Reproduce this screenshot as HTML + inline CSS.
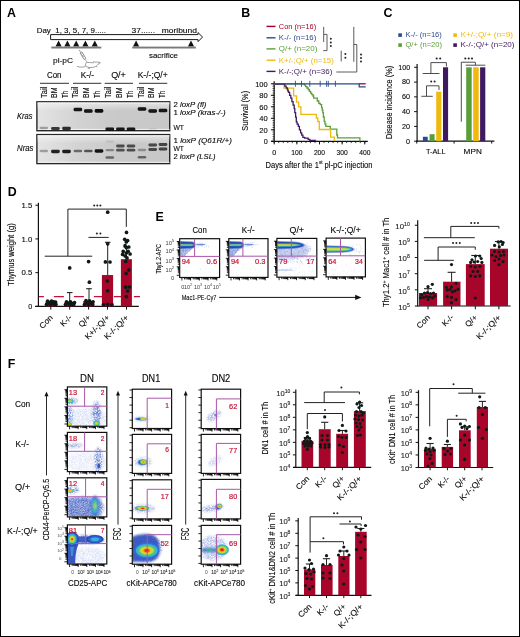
<!DOCTYPE html>
<html><head><meta charset="utf-8"><style>
html,body{margin:0;padding:0;background:#fff;}
body{width:520px;height:637px;overflow:hidden;}
svg{display:block;font-family:"Liberation Sans", sans-serif;will-change:transform;}
text:not([stroke]){stroke:#231f20;stroke-width:0.12px;}
</style></head><body>
<svg width="520" height="637" viewBox="0 0 520 637">
<defs>
<filter id="bl1" x="-50%" y="-50%" width="200%" height="200%"><feGaussianBlur stdDeviation="0.6"/></filter>
<filter id="bl2" x="-50%" y="-50%" width="200%" height="200%"><feGaussianBlur stdDeviation="1.2"/></filter>
<filter id="bl3" x="-50%" y="-50%" width="200%" height="200%"><feGaussianBlur stdDeviation="2"/></filter>
<filter id="bl4" x="-50%" y="-50%" width="200%" height="200%"><feGaussianBlur stdDeviation="3"/></filter>
<filter id="spk" filterUnits="userSpaceOnUse" x="0" y="0" width="520" height="637"><feGaussianBlur in="SourceGraphic" stdDeviation="1.2" result="b"/><feTurbulence type="fractalNoise" baseFrequency="2.6" numOctaves="1" seed="5" result="n"/><feColorMatrix in="n" type="matrix" values="0 0 0 0 0 0 0 0 0 0 0 0 0 0 0 2.2 0 0 0 -0.6" result="m"/><feComposite in="b" in2="m" operator="in"/></filter>
<filter id="spk2" filterUnits="userSpaceOnUse" x="0" y="0" width="520" height="637"><feGaussianBlur in="SourceGraphic" stdDeviation="0.8" result="b"/><feTurbulence type="fractalNoise" baseFrequency="1.3" numOctaves="1" seed="9" result="n"/><feColorMatrix in="n" type="matrix" values="0 0 0 0 0 0 0 0 0 0 0 0 0 0 0 3 0 0 0 -0.9" result="m"/><feComposite in="b" in2="m" operator="in"/></filter>
<linearGradient id="gel" x1="0" y1="0" x2="1" y2="0"><stop offset="0" stop-color="#e4e4e4"/><stop offset="0.3" stop-color="#d3d3d3"/><stop offset="0.6" stop-color="#c9c9c9"/><stop offset="1" stop-color="#c8c8c8"/></linearGradient><linearGradient id="gelv" x1="0" y1="0" x2="0" y2="1"><stop offset="0" stop-color="#fff" stop-opacity="0.5"/><stop offset="0.3" stop-color="#fff" stop-opacity="0"/></linearGradient>
</defs>
<rect x="0" y="0" width="520" height="637" fill="#fff"/>
<text x="6.9" y="17" font-size="12.4" fill="#000" font-weight="bold" stroke="none">A</text>
<text x="241.2" y="17" font-size="12.4" fill="#000" font-weight="bold" stroke="none">B</text>
<text x="383.6" y="17" font-size="12.4" fill="#000" font-weight="bold" stroke="none">C</text>
<text x="7.8" y="195.7" font-size="12.4" fill="#000" font-weight="bold" stroke="none">D</text>
<text x="155.5" y="220.5" font-size="12.4" fill="#000" font-weight="bold" stroke="none">E</text>
<text x="7.8" y="367.9" font-size="12.4" fill="#000" font-weight="bold" stroke="none">F</text>
<text x="36.7" y="32.5" font-size="7.6" textLength="69.3" lengthAdjust="spacingAndGlyphs" stroke="#231f20" stroke-width="0.12">Day&#160;&#160;1, 3, 5, 7, 9.....</text>
<text x="131.5" y="32.5" font-size="7.6" textLength="23.5" lengthAdjust="spacingAndGlyphs" stroke="#231f20" stroke-width="0.12">37......</text>
<text x="161.7" y="32.5" font-size="7.6" textLength="35.3" lengthAdjust="spacingAndGlyphs" stroke="#231f20" stroke-width="0.12">moribund</text>
<path d="M50.6,34.6 H198 V32.6 L202.6,37.1 L198,41.6 V39.6 H50.6 Z" stroke="#1a1a1a" stroke-width="1" fill="#fff"/>
<path d="M55.5,46.4 L58.6,40.6 L61.7,46.4 Z" fill="#111"/>
<path d="M64.3,46.4 L67.4,40.6 L70.5,46.4 Z" fill="#111"/>
<path d="M73.1,46.4 L76.2,40.6 L79.3,46.4 Z" fill="#111"/>
<path d="M82.3,46.4 L85.4,40.6 L88.5,46.4 Z" fill="#111"/>
<path d="M91.7,46.4 L94.8,40.6 L97.9,46.4 Z" fill="#111"/>
<path d="M133,46.4 L136.1,40.6 L139.2,46.4 Z" fill="#111"/>
<path d="M187.9,46.4 L191,40.6 L194.1,46.4 Z" fill="#111"/>
<rect x="51.3" y="46.6" width="50" height="1.9" fill="#7a7a7a"/>
<rect x="132.2" y="46.6" width="63.7" height="1.9" fill="#7a7a7a"/>
<text x="149" y="57.6" font-size="7.6" textLength="29" lengthAdjust="spacingAndGlyphs" stroke="#231f20" stroke-width="0.12">sacrifice</text>
<text x="53" y="62.7" font-size="7.6" textLength="20" lengthAdjust="spacingAndGlyphs" stroke="#231f20" stroke-width="0.12">pl-pC</text>
<path d="M79.1,49.9 L80.9,52.6" stroke="#666" stroke-width="0.6" fill="none"/>
<g transform="rotate(-31 83 55.8)"><rect x="82" y="51.9" width="2.1" height="7.6" fill="#fff" stroke="#555" stroke-width="0.55"/><path d="M82,53.6 H84.1 M82,55.2 H84.1 M82,56.8 H84.1" stroke="#666" stroke-width="0.45"/></g>
<path d="M85.3,59.3 L86.6,61.9" stroke="#666" stroke-width="0.55" fill="none"/>
<path d="M86.3,62.4 C88.5,62.2 91,62.9 93.4,62.8 L94,61.3 L95.1,62.4 C96.6,61.9 98.5,62 100.4,62.7 L98.3,64.1 C97.6,65 96.9,65.6 96.3,66.2 L97.3,67.2 M96.3,66.2 C94.5,67.4 91.5,67.6 89.2,67.4 L88.2,68.4 L89.9,68.5 M89.2,67.4 C87.5,67.1 86.3,66.7 85.6,66.2 C85.3,65 85.6,63.4 86.3,62.4" stroke="#555" stroke-width="0.55" fill="none"/>
<path d="M85.6,66.2 C83.8,67.5 80,67.4 77,66.4" stroke="#555" stroke-width="0.55" fill="none"/>
<circle cx="98.1" cy="63" r="0.35" fill="#444"/>
<text x="54.2" y="78" font-size="8.2" text-anchor="middle" textLength="14.5" lengthAdjust="spacingAndGlyphs" stroke="#231f20" stroke-width="0.12">Con</text>
<text x="87.4" y="78" font-size="8.2" text-anchor="middle" textLength="13.2" lengthAdjust="spacingAndGlyphs" stroke="#231f20" stroke-width="0.12">K-/-</text>
<text x="118.5" y="78" font-size="8.2" text-anchor="middle" textLength="14.7" lengthAdjust="spacingAndGlyphs" stroke="#231f20" stroke-width="0.12">Q/+</text>
<text x="152.7" y="78" font-size="8.2" text-anchor="middle" textLength="30" lengthAdjust="spacingAndGlyphs" stroke="#231f20" stroke-width="0.12">K-/-;Q/+</text>
<line x1="40" y1="83.3" x2="69" y2="83.3" stroke="#333" stroke-width="1"/>
<line x1="73" y1="83.3" x2="101.3" y2="83.3" stroke="#333" stroke-width="1"/>
<line x1="104.7" y1="83.3" x2="133" y2="83.3" stroke="#333" stroke-width="1"/>
<line x1="139" y1="83.3" x2="167.3" y2="83.3" stroke="#333" stroke-width="1"/>
<text x="46.6" y="97.9" font-size="8.6" transform="rotate(-90 46.6 97.9)" textLength="11.2" lengthAdjust="spacingAndGlyphs" stroke="#231f20" stroke-width="0.12">Tail</text>
<text x="56.8" y="97.9" font-size="8.6" transform="rotate(-90 56.8 97.9)" textLength="10.5" lengthAdjust="spacingAndGlyphs" stroke="#231f20" stroke-width="0.12">BM</text>
<text x="67.6" y="97.9" font-size="8.6" transform="rotate(-90 67.6 97.9)" textLength="7.2" lengthAdjust="spacingAndGlyphs" stroke="#231f20" stroke-width="0.12">Th</text>
<text x="78.5" y="97.9" font-size="8.6" transform="rotate(-90 78.5 97.9)" textLength="11.2" lengthAdjust="spacingAndGlyphs" stroke="#231f20" stroke-width="0.12">Tail</text>
<text x="89" y="97.9" font-size="8.6" transform="rotate(-90 89 97.9)" textLength="10.5" lengthAdjust="spacingAndGlyphs" stroke="#231f20" stroke-width="0.12">BM</text>
<text x="100.4" y="97.9" font-size="8.6" transform="rotate(-90 100.4 97.9)" textLength="7.2" lengthAdjust="spacingAndGlyphs" stroke="#231f20" stroke-width="0.12">Th</text>
<text x="111.3" y="97.9" font-size="8.6" transform="rotate(-90 111.3 97.9)" textLength="11.2" lengthAdjust="spacingAndGlyphs" stroke="#231f20" stroke-width="0.12">Tail</text>
<text x="122.1" y="97.9" font-size="8.6" transform="rotate(-90 122.1 97.9)" textLength="10.5" lengthAdjust="spacingAndGlyphs" stroke="#231f20" stroke-width="0.12">BM</text>
<text x="132.9" y="97.9" font-size="8.6" transform="rotate(-90 132.9 97.9)" textLength="7.2" lengthAdjust="spacingAndGlyphs" stroke="#231f20" stroke-width="0.12">Th</text>
<text x="143.7" y="97.9" font-size="8.6" transform="rotate(-90 143.7 97.9)" textLength="11.2" lengthAdjust="spacingAndGlyphs" stroke="#231f20" stroke-width="0.12">Tail</text>
<text x="154.4" y="97.9" font-size="8.6" transform="rotate(-90 154.4 97.9)" textLength="10.5" lengthAdjust="spacingAndGlyphs" stroke="#231f20" stroke-width="0.12">BM</text>
<text x="165.2" y="97.9" font-size="8.6" transform="rotate(-90 165.2 97.9)" textLength="7.2" lengthAdjust="spacingAndGlyphs" stroke="#231f20" stroke-width="0.12">Th</text>
<rect x="36.9" y="101.8" width="132.8" height="28.9" fill="url(#gel)" stroke="#262626" stroke-width="1.4"/>
<rect x="37.3" y="102.5" width="132.4" height="27.5" fill="url(#gelv)"/>
<line x1="37.7" y1="103" x2="169.5" y2="103" stroke="#f6f6f6" stroke-width="0.9"/>
<line x1="37.7" y1="129.4" x2="169.5" y2="129.4" stroke="#f8f8f8" stroke-width="0.9"/>
<rect x="36.9" y="134.6" width="132.8" height="29" fill="url(#gel)" stroke="#262626" stroke-width="1.4"/>
<rect x="37.3" y="135.3" width="132.4" height="27.6" fill="url(#gelv)"/>
<line x1="37.7" y1="135.8" x2="169.5" y2="135.8" stroke="#f6f6f6" stroke-width="0.9"/>
<line x1="37.7" y1="162.3" x2="169.5" y2="162.3" stroke="#f8f8f8" stroke-width="0.9"/>
<g filter="url(#bl1)">
<rect x="39.5" y="126.85" width="8.6" height="2.3" rx="1.4" fill="#0a0a0a" opacity="0.3"/>
<rect x="39.5" y="149.85" width="8.6" height="2.3" rx="1.4" fill="#0a0a0a" opacity="0.3"/>
<rect x="51.1" y="126.92" width="8.6" height="3.17" rx="1.4" fill="#0a0a0a" opacity="0.8"/>
<rect x="51.1" y="149.81" width="8.6" height="3.38" rx="1.4" fill="#0a0a0a" opacity="0.9"/>
<rect x="62.2" y="126.86" width="8.6" height="3.27" rx="1.4" fill="#0a0a0a" opacity="0.85"/>
<rect x="62.2" y="149.79" width="8.6" height="3.43" rx="1.4" fill="#0a0a0a" opacity="0.92"/>
<rect x="73.6" y="107.85" width="8.6" height="3.49" rx="1.4" fill="#0a0a0a" opacity="0.95"/>
<rect x="73.6" y="149.74" width="8.6" height="2.52" rx="1.4" fill="#0a0a0a" opacity="0.5"/>
<rect x="84" y="109.35" width="8.6" height="3.49" rx="1.4" fill="#0a0a0a" opacity="0.95"/>
<rect x="84" y="149.63" width="8.6" height="2.73" rx="1.4" fill="#0a0a0a" opacity="0.6"/>
<rect x="94.7" y="109.1" width="8.6" height="3.6" rx="1.4" fill="#0a0a0a" opacity="1"/>
<rect x="94.7" y="149.23" width="8.6" height="3.54" rx="1.4" fill="#0a0a0a" opacity="0.97"/>
<rect x="105.5" y="127.45" width="8.6" height="3.49" rx="1.4" fill="#0a0a0a" opacity="0.95"/>
<rect x="105.5" y="149.05" width="8.6" height="2.3" rx="1.4" fill="#0a0a0a" opacity="0.35"/>
<rect x="105.5" y="156.24" width="8.6" height="2.52" rx="1.4" fill="#0a0a0a" opacity="0.5"/>
<rect x="105.5" y="140.35" width="8.6" height="2.3" rx="1.4" fill="#0a0a0a" opacity="0.08"/>
<rect x="116.1" y="127.45" width="8.6" height="3.49" rx="1.4" fill="#0a0a0a" opacity="0.95"/>
<rect x="116.1" y="144.61" width="8.6" height="2.78" rx="1.4" fill="#0a0a0a" opacity="0.62"/>
<rect x="116.1" y="148.83" width="8.6" height="2.73" rx="1.4" fill="#0a0a0a" opacity="0.6"/>
<rect x="126.7" y="127.45" width="8.6" height="3.49" rx="1.4" fill="#0a0a0a" opacity="0.95"/>
<rect x="126.7" y="144.61" width="8.6" height="2.78" rx="1.4" fill="#0a0a0a" opacity="0.62"/>
<rect x="126.7" y="148.81" width="8.6" height="2.78" rx="1.4" fill="#0a0a0a" opacity="0.62"/>
<rect x="137.7" y="107.15" width="8.6" height="3.49" rx="1.4" fill="#0a0a0a" opacity="0.95"/>
<rect x="137.7" y="148.85" width="8.6" height="2.3" rx="1.4" fill="#0a0a0a" opacity="0.3"/>
<rect x="137.7" y="155.94" width="8.6" height="2.52" rx="1.4" fill="#0a0a0a" opacity="0.5"/>
<rect x="148.4" y="109.25" width="8.6" height="3.49" rx="1.4" fill="#0a0a0a" opacity="0.95"/>
<rect x="148.4" y="128.15" width="8.6" height="2.3" rx="1.4" fill="#0a0a0a" opacity="0.08"/>
<rect x="148.4" y="143.53" width="8.6" height="2.95" rx="1.4" fill="#0a0a0a" opacity="0.7"/>
<rect x="148.4" y="148.03" width="8.6" height="2.95" rx="1.4" fill="#0a0a0a" opacity="0.7"/>
<rect x="158.7" y="108.85" width="8.6" height="3.49" rx="1.4" fill="#0a0a0a" opacity="0.95"/>
<rect x="158.7" y="143" width="8.6" height="2.99" rx="1.4" fill="#0a0a0a" opacity="0.72"/>
<rect x="158.7" y="147.5" width="8.6" height="2.99" rx="1.4" fill="#0a0a0a" opacity="0.72"/>
</g>
<text x="17" y="119" font-size="8.4" font-style="italic" textLength="15.4" lengthAdjust="spacingAndGlyphs" stroke="#231f20" stroke-width="0.12">Kras</text>
<text x="17" y="151.4" font-size="8.4" font-style="italic" textLength="16.5" lengthAdjust="spacingAndGlyphs" stroke="#231f20" stroke-width="0.12">Nras</text>
<text x="173.4" y="107.3" font-size="7.4" textLength="33" lengthAdjust="spacingAndGlyphs">2 <tspan font-style="italic">loxP</tspan> <tspan font-style="italic">(fl)</tspan></text>
<text x="173.4" y="115.2" font-size="7.4" textLength="52.2" lengthAdjust="spacingAndGlyphs">1 <tspan font-style="italic">loxP</tspan> <tspan font-style="italic">(kras-/-)</tspan></text>
<text x="173.4" y="129.6" font-size="7.4" textLength="10.5" lengthAdjust="spacingAndGlyphs" stroke="#231f20" stroke-width="0.12">WT</text>
<text x="173.4" y="143" font-size="7.4" textLength="58.6" lengthAdjust="spacingAndGlyphs">1 <tspan font-style="italic">loxP</tspan> <tspan font-style="italic">(Q61R/+)</tspan></text>
<text x="173.4" y="151" font-size="7.4" textLength="10.5" lengthAdjust="spacingAndGlyphs" stroke="#231f20" stroke-width="0.12">WT</text>
<text x="173.4" y="159.2" font-size="7.4" textLength="42.1" lengthAdjust="spacingAndGlyphs">2 <tspan font-style="italic">loxP</tspan> <tspan font-style="italic">(LSL)</tspan></text>
<line x1="266.5" y1="26.4" x2="275.5" y2="26.4" stroke="#a50026" stroke-width="1.4"/>
<text x="278.8" y="28.9" font-size="7.6" fill="#a50026" textLength="37.4" lengthAdjust="spacingAndGlyphs" stroke="none">Con (n=16)</text>
<line x1="266.5" y1="37.8" x2="275.5" y2="37.8" stroke="#2b4b8c" stroke-width="1.4"/>
<text x="278.8" y="40.3" font-size="7.6" fill="#2b4b8c" textLength="37.5" lengthAdjust="spacingAndGlyphs" stroke="none">K-/- (n=16)</text>
<line x1="266.5" y1="48.9" x2="275.5" y2="48.9" stroke="#5a9e3a" stroke-width="1.4"/>
<text x="278.8" y="51.4" font-size="7.6" fill="#5a9e3a" textLength="38.5" lengthAdjust="spacingAndGlyphs" stroke="none">Q/+ (n=20)</text>
<line x1="266.5" y1="60.2" x2="275.5" y2="60.2" stroke="#f0b90f" stroke-width="1.4"/>
<text x="278.8" y="62.7" font-size="7.6" fill="#f0b90f" textLength="55" lengthAdjust="spacingAndGlyphs" stroke="none">K+/-;Q/+ (n=15)</text>
<line x1="266.5" y1="71.4" x2="275.5" y2="71.4" stroke="#3f1a5e" stroke-width="1.4"/>
<text x="278.8" y="73.9" font-size="7.6" fill="#3f1a5e" textLength="53.5" lengthAdjust="spacingAndGlyphs" stroke="none">K-/-;Q/+ (n=36)</text>
<path d="M323.7,26.9 V42.1" stroke="#4a4a4a" stroke-width="0.9" fill="none"/>
<path d="M323.7,34.4 H327 V50.6 H323.2" stroke="#4a4a4a" stroke-width="0.9" fill="none"/>
<path d="M341.2,50.6 V61.5" stroke="#4a4a4a" stroke-width="0.9" fill="none"/>
<path d="M353.8,26.9 V61.8" stroke="#4a4a4a" stroke-width="0.9" fill="none"/>
<path d="M353.8,44.5 H356.8 V72 H336.3" stroke="#4a4a4a" stroke-width="0.9" fill="none"/>
<circle cx="330.8" cy="38.8" r="1" fill="#222"/>
<circle cx="330.8" cy="42.4" r="1" fill="#222"/>
<circle cx="330.8" cy="45.9" r="1" fill="#222"/>
<circle cx="345.4" cy="54.1" r="1" fill="#222"/>
<circle cx="345.4" cy="57.8" r="1" fill="#222"/>
<circle cx="361" cy="54.6" r="1" fill="#222"/>
<circle cx="361" cy="58" r="1" fill="#222"/>
<circle cx="361" cy="61.4" r="1" fill="#222"/>
<line x1="274.2" y1="81.2" x2="274.2" y2="141.9" stroke="#111" stroke-width="1.2"/>
<line x1="272.6" y1="141.3" x2="274.2" y2="141.3" stroke="#111" stroke-width="0.8"/>
<line x1="272.6" y1="139" x2="274.2" y2="139" stroke="#111" stroke-width="0.8"/>
<line x1="272.6" y1="136.7" x2="274.2" y2="136.7" stroke="#111" stroke-width="0.8"/>
<line x1="272.6" y1="134.4" x2="274.2" y2="134.4" stroke="#111" stroke-width="0.8"/>
<line x1="272.6" y1="132.1" x2="274.2" y2="132.1" stroke="#111" stroke-width="0.8"/>
<line x1="272.6" y1="129.8" x2="274.2" y2="129.8" stroke="#111" stroke-width="0.8"/>
<line x1="272.6" y1="127.5" x2="274.2" y2="127.5" stroke="#111" stroke-width="0.8"/>
<line x1="272.6" y1="125.2" x2="274.2" y2="125.2" stroke="#111" stroke-width="0.8"/>
<line x1="272.6" y1="122.9" x2="274.2" y2="122.9" stroke="#111" stroke-width="0.8"/>
<line x1="272.6" y1="120.6" x2="274.2" y2="120.6" stroke="#111" stroke-width="0.8"/>
<line x1="272.6" y1="118.3" x2="274.2" y2="118.3" stroke="#111" stroke-width="0.8"/>
<line x1="272.6" y1="116" x2="274.2" y2="116" stroke="#111" stroke-width="0.8"/>
<line x1="272.6" y1="113.7" x2="274.2" y2="113.7" stroke="#111" stroke-width="0.8"/>
<line x1="272.6" y1="111.4" x2="274.2" y2="111.4" stroke="#111" stroke-width="0.8"/>
<line x1="272.6" y1="109.1" x2="274.2" y2="109.1" stroke="#111" stroke-width="0.8"/>
<line x1="272.6" y1="106.8" x2="274.2" y2="106.8" stroke="#111" stroke-width="0.8"/>
<line x1="272.6" y1="104.5" x2="274.2" y2="104.5" stroke="#111" stroke-width="0.8"/>
<line x1="272.6" y1="102.2" x2="274.2" y2="102.2" stroke="#111" stroke-width="0.8"/>
<line x1="272.6" y1="99.9" x2="274.2" y2="99.9" stroke="#111" stroke-width="0.8"/>
<line x1="272.6" y1="97.6" x2="274.2" y2="97.6" stroke="#111" stroke-width="0.8"/>
<line x1="272.6" y1="95.3" x2="274.2" y2="95.3" stroke="#111" stroke-width="0.8"/>
<line x1="272.6" y1="93" x2="274.2" y2="93" stroke="#111" stroke-width="0.8"/>
<line x1="272.6" y1="90.7" x2="274.2" y2="90.7" stroke="#111" stroke-width="0.8"/>
<line x1="272.6" y1="88.4" x2="274.2" y2="88.4" stroke="#111" stroke-width="0.8"/>
<line x1="272.6" y1="86.1" x2="274.2" y2="86.1" stroke="#111" stroke-width="0.8"/>
<line x1="272.6" y1="83.8" x2="274.2" y2="83.8" stroke="#111" stroke-width="0.8"/>
<line x1="270.9" y1="141.3" x2="274.2" y2="141.3" stroke="#111" stroke-width="1"/>
<text x="267.7" y="144.2" font-size="8" text-anchor="end" textLength="4" lengthAdjust="spacingAndGlyphs" stroke="#231f20" stroke-width="0.12">0</text>
<line x1="270.9" y1="129.8" x2="274.2" y2="129.8" stroke="#111" stroke-width="1"/>
<text x="267.7" y="132.7" font-size="8" text-anchor="end" textLength="8.4" lengthAdjust="spacingAndGlyphs" stroke="#231f20" stroke-width="0.12">20</text>
<line x1="270.9" y1="118.3" x2="274.2" y2="118.3" stroke="#111" stroke-width="1"/>
<text x="267.7" y="121.2" font-size="8" text-anchor="end" textLength="8.4" lengthAdjust="spacingAndGlyphs" stroke="#231f20" stroke-width="0.12">40</text>
<line x1="270.9" y1="106.8" x2="274.2" y2="106.8" stroke="#111" stroke-width="1"/>
<text x="267.7" y="109.7" font-size="8" text-anchor="end" textLength="8.4" lengthAdjust="spacingAndGlyphs" stroke="#231f20" stroke-width="0.12">60</text>
<line x1="270.9" y1="95.3" x2="274.2" y2="95.3" stroke="#111" stroke-width="1"/>
<text x="267.7" y="98.2" font-size="8" text-anchor="end" textLength="8.4" lengthAdjust="spacingAndGlyphs" stroke="#231f20" stroke-width="0.12">80</text>
<line x1="270.9" y1="83.8" x2="274.2" y2="83.8" stroke="#111" stroke-width="1"/>
<text x="267.7" y="86.7" font-size="8" text-anchor="end" textLength="12.5" lengthAdjust="spacingAndGlyphs" stroke="#231f20" stroke-width="0.12">100</text>
<line x1="271.2" y1="141.3" x2="367.8" y2="141.3" stroke="#111" stroke-width="1.2"/>
<line x1="274.2" y1="141.3" x2="274.2" y2="143.1" stroke="#111" stroke-width="0.8"/>
<line x1="278.73" y1="141.3" x2="278.73" y2="143.1" stroke="#111" stroke-width="0.8"/>
<line x1="283.26" y1="141.3" x2="283.26" y2="143.1" stroke="#111" stroke-width="0.8"/>
<line x1="287.79" y1="141.3" x2="287.79" y2="143.1" stroke="#111" stroke-width="0.8"/>
<line x1="292.32" y1="141.3" x2="292.32" y2="143.1" stroke="#111" stroke-width="0.8"/>
<line x1="296.85" y1="141.3" x2="296.85" y2="143.1" stroke="#111" stroke-width="0.8"/>
<line x1="301.38" y1="141.3" x2="301.38" y2="143.1" stroke="#111" stroke-width="0.8"/>
<line x1="305.91" y1="141.3" x2="305.91" y2="143.1" stroke="#111" stroke-width="0.8"/>
<line x1="310.44" y1="141.3" x2="310.44" y2="143.1" stroke="#111" stroke-width="0.8"/>
<line x1="314.97" y1="141.3" x2="314.97" y2="143.1" stroke="#111" stroke-width="0.8"/>
<line x1="319.5" y1="141.3" x2="319.5" y2="143.1" stroke="#111" stroke-width="0.8"/>
<line x1="324.03" y1="141.3" x2="324.03" y2="143.1" stroke="#111" stroke-width="0.8"/>
<line x1="328.56" y1="141.3" x2="328.56" y2="143.1" stroke="#111" stroke-width="0.8"/>
<line x1="333.09" y1="141.3" x2="333.09" y2="143.1" stroke="#111" stroke-width="0.8"/>
<line x1="337.62" y1="141.3" x2="337.62" y2="143.1" stroke="#111" stroke-width="0.8"/>
<line x1="342.15" y1="141.3" x2="342.15" y2="143.1" stroke="#111" stroke-width="0.8"/>
<line x1="346.68" y1="141.3" x2="346.68" y2="143.1" stroke="#111" stroke-width="0.8"/>
<line x1="351.21" y1="141.3" x2="351.21" y2="143.1" stroke="#111" stroke-width="0.8"/>
<line x1="355.74" y1="141.3" x2="355.74" y2="143.1" stroke="#111" stroke-width="0.8"/>
<line x1="360.27" y1="141.3" x2="360.27" y2="143.1" stroke="#111" stroke-width="0.8"/>
<line x1="364.8" y1="141.3" x2="364.8" y2="143.1" stroke="#111" stroke-width="0.8"/>
<line x1="274.2" y1="141.3" x2="274.2" y2="144.4" stroke="#111" stroke-width="1"/>
<text x="274.2" y="154.5" font-size="8" text-anchor="middle" textLength="4" lengthAdjust="spacingAndGlyphs" stroke="#231f20" stroke-width="0.12">0</text>
<line x1="296.85" y1="141.3" x2="296.85" y2="144.4" stroke="#111" stroke-width="1"/>
<text x="296.85" y="154.5" font-size="8" text-anchor="middle" textLength="11.2" lengthAdjust="spacingAndGlyphs" stroke="#231f20" stroke-width="0.12">100</text>
<line x1="319.5" y1="141.3" x2="319.5" y2="144.4" stroke="#111" stroke-width="1"/>
<text x="319.5" y="154.5" font-size="8" text-anchor="middle" textLength="11.2" lengthAdjust="spacingAndGlyphs" stroke="#231f20" stroke-width="0.12">200</text>
<line x1="342.15" y1="141.3" x2="342.15" y2="144.4" stroke="#111" stroke-width="1"/>
<text x="342.15" y="154.5" font-size="8" text-anchor="middle" textLength="11.2" lengthAdjust="spacingAndGlyphs" stroke="#231f20" stroke-width="0.12">300</text>
<line x1="364.8" y1="141.3" x2="364.8" y2="144.4" stroke="#111" stroke-width="1"/>
<text x="364.8" y="154.5" font-size="8" text-anchor="middle" textLength="11.2" lengthAdjust="spacingAndGlyphs" stroke="#231f20" stroke-width="0.12">400</text>
<text x="248.5" y="110.85" font-size="9.4" text-anchor="middle" transform="rotate(-90 248.5 110.85)" textLength="39.9" lengthAdjust="spacingAndGlyphs" stroke="#231f20" stroke-width="0.12">Survival (%)</text>
<text x="265.5" y="167.8" font-size="9.5" textLength="107" lengthAdjust="spacingAndGlyphs">Days after the 1<tspan font-size="5.8" dy="-3.4">st</tspan><tspan dy="3.4"> pl-pC injection</tspan></text>
<path d="M274.2,83.8 H304.4 V85.2 H305.6 V86.7 H307 V88 H308.2 V89.5 H309.4 V91.3 H310.6 V93.2 H311.8 V94.6 H313 V96 H313.7 V98.2 H317.3 V101 H318.8 V103.3 H320.2 V104.7 H321.6 V107.6 H322.2 V110 H322.8 V112.6 H323.4 V117 H324.2 V121.3 H325 V124 H325.8 V126.3 H330.3 V129.2 H336.8 V135 H337.5 V137.9 H359.9 V140.8 H360.3 V140.8" stroke="#5a9e3a" stroke-width="1.3" fill="none"/>
<path d="M274.2,84.4 H284 V88.1 H293.6 V95.9 H296.5 V102.2 H298.6 V106.8 H300.9 V114.4 H316.3 V118 H317.8 V121.5 H319.3 V129.5 H330.6 V137.2 H334.3 V141" stroke="#f0b90f" stroke-width="1.3" fill="none"/>
<path d="M274.2,84.2 H284.8 V86.1 H286.1 V87.8 H287.3 V89.5 H287.9 V91 H288.5 V92.4 H289.6 V95.3 H290.8 V98.2 H291.9 V101.6 H293.1 V105.1 H294.2 V108.6 H294.8 V112.6 H295.6 V117.2 H296.3 V121.8 H297.1 V124.1 H298.3 V126.4 H299.4 V129.9 H300.6 V132.8 H301.7 V135.1 H302.9 V137.4 H304.6 V138.2 H308.1 V139.4 H309.8 V140.3 H315.6 V140.6" stroke="#3f1a5e" stroke-width="1.3" fill="none"/>
<path d="M274.2,83.8 H359.2 V86.9 H365.7" stroke="#2b4b8c" stroke-width="1.3" fill="none"/>
<path d="M359.2,83.8 H365.7" stroke="#a50026" stroke-width="1.3" fill="none"/>
<line x1="295.4" y1="80.8" x2="295.4" y2="86.8" stroke="#2b4b8c" stroke-width="0.9"/>
<line x1="301.5" y1="80.8" x2="301.5" y2="86.8" stroke="#2b4b8c" stroke-width="0.9"/>
<line x1="309.8" y1="80.8" x2="309.8" y2="86.8" stroke="#2b4b8c" stroke-width="0.9"/>
<line x1="320.2" y1="80.8" x2="320.2" y2="86.8" stroke="#2b4b8c" stroke-width="0.9"/>
<line x1="326.6" y1="80.8" x2="326.6" y2="86.8" stroke="#2b4b8c" stroke-width="0.9"/>
<line x1="328.3" y1="80.8" x2="328.3" y2="86.8" stroke="#2b4b8c" stroke-width="0.9"/>
<line x1="335.4" y1="80.8" x2="335.4" y2="86.8" stroke="#2b4b8c" stroke-width="0.9"/>
<rect x="398.3" y="33.3" width="3.6" height="3.6" fill="#2b4b8c"/>
<text x="405.5" y="36.9" font-size="7.6" fill="#2b4b8c" textLength="36.3" lengthAdjust="spacingAndGlyphs" stroke="none">K-/- (n=16)</text>
<rect x="453.3" y="33.3" width="3.6" height="3.6" fill="#f0b90f"/>
<text x="460.5" y="36.9" font-size="7.6" fill="#f0b90f" textLength="52.5" lengthAdjust="spacingAndGlyphs" stroke="none">K+/-;Q/+ (n=9)</text>
<rect x="398.3" y="43.3" width="3.6" height="3.6" fill="#5a9e3a"/>
<text x="405.5" y="46.9" font-size="7.6" fill="#5a9e3a" textLength="36.5" lengthAdjust="spacingAndGlyphs" stroke="none">Q/+ (n=20)</text>
<rect x="453.3" y="43.3" width="3.6" height="3.6" fill="#3f1a5e"/>
<text x="460.5" y="46.9" font-size="7.6" fill="#3f1a5e" textLength="54" lengthAdjust="spacingAndGlyphs" stroke="none">K-/-;Q/+ (n=20)</text>
<line x1="417.1" y1="64" x2="417.1" y2="141.8" stroke="#111" stroke-width="1.2"/>
<line x1="414.1" y1="141.2" x2="417.1" y2="141.2" stroke="#111" stroke-width="1"/>
<text x="410.1" y="143.6" font-size="8" text-anchor="end" textLength="4" lengthAdjust="spacingAndGlyphs" stroke="#231f20" stroke-width="0.12">0</text>
<line x1="414.1" y1="126.42" x2="417.1" y2="126.42" stroke="#111" stroke-width="1"/>
<text x="410.1" y="128.82" font-size="8" text-anchor="end" textLength="8" lengthAdjust="spacingAndGlyphs" stroke="#231f20" stroke-width="0.12">20</text>
<line x1="414.1" y1="111.64" x2="417.1" y2="111.64" stroke="#111" stroke-width="1"/>
<text x="410.1" y="114.04" font-size="8" text-anchor="end" textLength="8" lengthAdjust="spacingAndGlyphs" stroke="#231f20" stroke-width="0.12">40</text>
<line x1="414.1" y1="96.86" x2="417.1" y2="96.86" stroke="#111" stroke-width="1"/>
<text x="410.1" y="99.26" font-size="8" text-anchor="end" textLength="8" lengthAdjust="spacingAndGlyphs" stroke="#231f20" stroke-width="0.12">60</text>
<line x1="414.1" y1="82.08" x2="417.1" y2="82.08" stroke="#111" stroke-width="1"/>
<text x="410.1" y="84.48" font-size="8" text-anchor="end" textLength="8" lengthAdjust="spacingAndGlyphs" stroke="#231f20" stroke-width="0.12">80</text>
<line x1="414.1" y1="67.3" x2="417.1" y2="67.3" stroke="#111" stroke-width="1"/>
<text x="410.1" y="69.7" font-size="8" text-anchor="end" textLength="11.8" lengthAdjust="spacingAndGlyphs" stroke="#231f20" stroke-width="0.12">100</text>
<line x1="416.2" y1="141.2" x2="494.4" y2="141.2" stroke="#111" stroke-width="1.2"/>
<line x1="416.8" y1="141.2" x2="416.8" y2="143.6" stroke="#111" stroke-width="1"/>
<line x1="454.1" y1="141.2" x2="454.1" y2="143.6" stroke="#111" stroke-width="1"/>
<line x1="491.7" y1="141.2" x2="491.7" y2="143.6" stroke="#111" stroke-width="1"/>
<text x="391.7" y="102.4" font-size="9.4" text-anchor="middle" transform="rotate(-90 391.7 102.4)" textLength="73.2" lengthAdjust="spacingAndGlyphs" stroke="#231f20" stroke-width="0.12">Disease incidence (%)</text>
<text x="435.7" y="154" font-size="8" text-anchor="middle" textLength="19.6" lengthAdjust="spacingAndGlyphs" stroke="#231f20" stroke-width="0.12">T-ALL</text>
<text x="472.7" y="154" font-size="8" text-anchor="middle" textLength="18.2" lengthAdjust="spacingAndGlyphs" stroke="#231f20" stroke-width="0.12">MPN</text>
<rect x="422.9" y="136.77" width="4.8" height="4.43" fill="#2b4b8c"/>
<rect x="429.6" y="134.18" width="5" height="7.02" fill="#5a9e3a"/>
<rect x="436.2" y="91.69" width="5.2" height="49.51" fill="#f0b90f"/>
<rect x="443" y="67.3" width="5.1" height="73.9" fill="#3f1a5e"/>
<rect x="466.2" y="67.3" width="5.5" height="73.9" fill="#5a9e3a"/>
<rect x="473.2" y="67.3" width="5.5" height="73.9" fill="#f0b90f"/>
<rect x="480.1" y="67.3" width="5.2" height="73.9" fill="#3f1a5e"/>
<path d="M422.6,73.5 H439.5 M430.9,73.5 V62.6 H446.4 V66.5" stroke="#3a3a3a" stroke-width="0.9" fill="none"/>
<path d="M421.3,96.3 H432.8 M426.5,96.3 V85.8 H439 V90" stroke="#3a3a3a" stroke-width="0.9" fill="none"/>
<path d="M461.3,121.7 V62.2 H475.4 V65.2 M465.7,65.2 H485.3" stroke="#3a3a3a" stroke-width="0.9" fill="none"/>
<circle cx="436.7" cy="58.5" r="1.05" fill="#222"/>
<circle cx="440.2" cy="58.5" r="1.05" fill="#222"/>
<circle cx="431.2" cy="81.4" r="1" fill="#222"/>
<circle cx="434.6" cy="81.4" r="1" fill="#222"/>
<circle cx="465.3" cy="58.5" r="1.05" fill="#222"/>
<circle cx="468.7" cy="58.5" r="1.05" fill="#222"/>
<circle cx="472" cy="58.5" r="1.05" fill="#222"/>
<line x1="38.4" y1="202.8" x2="38.4" y2="307" stroke="#111" stroke-width="1.2"/>
<line x1="35.4" y1="205.19" x2="38.4" y2="205.19" stroke="#111" stroke-width="1"/>
<text x="32.3" y="207.79" font-size="8" text-anchor="end" textLength="10.8" lengthAdjust="spacingAndGlyphs" stroke="#231f20" stroke-width="0.12">1.5</text>
<line x1="35.4" y1="238.93" x2="38.4" y2="238.93" stroke="#111" stroke-width="1"/>
<text x="32.3" y="241.53" font-size="8" text-anchor="end" textLength="10.8" lengthAdjust="spacingAndGlyphs" stroke="#231f20" stroke-width="0.12">1.0</text>
<line x1="35.4" y1="272.66" x2="38.4" y2="272.66" stroke="#111" stroke-width="1"/>
<text x="32.3" y="275.26" font-size="8" text-anchor="end" textLength="10.8" lengthAdjust="spacingAndGlyphs" stroke="#231f20" stroke-width="0.12">0.5</text>
<line x1="35.4" y1="306.4" x2="38.4" y2="306.4" stroke="#111" stroke-width="1"/>
<text x="32.3" y="309" font-size="8" text-anchor="end" textLength="4" lengthAdjust="spacingAndGlyphs" stroke="#231f20" stroke-width="0.12">0</text>
<line x1="35.2" y1="306.4" x2="138.8" y2="306.4" stroke="#111" stroke-width="1.2"/>
<line x1="50.8" y1="306.4" x2="50.8" y2="309.6" stroke="#111" stroke-width="1"/>
<line x1="69.7" y1="306.4" x2="69.7" y2="309.6" stroke="#111" stroke-width="1"/>
<line x1="88.6" y1="306.4" x2="88.6" y2="309.6" stroke="#111" stroke-width="1"/>
<line x1="107.5" y1="306.4" x2="107.5" y2="309.6" stroke="#111" stroke-width="1"/>
<line x1="126.5" y1="306.4" x2="126.5" y2="309.6" stroke="#111" stroke-width="1"/>
<text x="14.5" y="254.55" font-size="9.4" text-anchor="middle" transform="rotate(-90 14.5 254.55)" textLength="62.9" lengthAdjust="spacingAndGlyphs" stroke="#231f20" stroke-width="0.12">Thymus weight (g)</text>
<text x="53.4" y="318.2" font-size="8" text-anchor="end" transform="rotate(-45 53.4 318.2)" textLength="15.5" lengthAdjust="spacingAndGlyphs" stroke="#231f20" stroke-width="0.12">Con</text>
<text x="72.3" y="318.2" font-size="8" text-anchor="end" transform="rotate(-45 72.3 318.2)" textLength="12.5" lengthAdjust="spacingAndGlyphs" stroke="#231f20" stroke-width="0.12">K-/-</text>
<text x="91.2" y="318.2" font-size="8" text-anchor="end" transform="rotate(-45 91.2 318.2)" textLength="13.5" lengthAdjust="spacingAndGlyphs" stroke="#231f20" stroke-width="0.12">Q/+</text>
<text x="110.1" y="318.2" font-size="8" text-anchor="end" transform="rotate(-45 110.1 318.2)" textLength="31" lengthAdjust="spacingAndGlyphs" stroke="#231f20" stroke-width="0.12">K+/-;Q/+</text>
<text x="129.1" y="318.2" font-size="8" text-anchor="end" transform="rotate(-45 129.1 318.2)" textLength="31" lengthAdjust="spacingAndGlyphs" stroke="#231f20" stroke-width="0.12">K-/-;Q/+</text>
<line x1="38.9" y1="296.7" x2="140" y2="296.7" stroke="#c4123a" stroke-width="1.2" stroke-dasharray="10 10" stroke-dashoffset="5"/>
<rect x="45.5" y="302.35" width="11" height="4.05" fill="#a8052a"/>
<rect x="64.3" y="302.35" width="11" height="4.05" fill="#a8052a"/>
<rect x="83.3" y="301" width="10.9" height="5.4" fill="#a8052a"/>
<rect x="101.9" y="275.03" width="11.2" height="31.37" fill="#a8052a"/>
<rect x="120.9" y="259.17" width="11" height="47.23" fill="#a8052a"/>
<path d="M67.9,256.2 V209.1 H126.3 V226.9" stroke="#222" stroke-width="1" fill="none"/>
<line x1="44.7" y1="256.2" x2="92.2" y2="256.2" stroke="#222" stroke-width="1"/>
<line x1="88.5" y1="237.4" x2="108.7" y2="237.4" stroke="#222" stroke-width="1"/>
<circle cx="94.2" cy="205.4" r="1" fill="#222"/>
<circle cx="97.3" cy="205.4" r="1" fill="#222"/>
<circle cx="100.4" cy="205.4" r="1" fill="#222"/>
<circle cx="96.9" cy="233.6" r="1" fill="#222"/>
<circle cx="100.4" cy="233.6" r="1" fill="#222"/>
<line x1="69.7" y1="302" x2="69.7" y2="292.6" stroke="#222" stroke-width="1"/>
<line x1="66.9" y1="292.6" x2="72.5" y2="292.6" stroke="#222" stroke-width="1.1"/>
<line x1="89" y1="300" x2="89" y2="288.7" stroke="#222" stroke-width="1"/>
<line x1="86.2" y1="288.7" x2="91.8" y2="288.7" stroke="#222" stroke-width="1.1"/>
<line x1="107.7" y1="275" x2="107.7" y2="242.3" stroke="#222" stroke-width="1"/>
<line x1="104.9" y1="242.3" x2="110.5" y2="242.3" stroke="#222" stroke-width="1.1"/>
<line x1="126.4" y1="259" x2="126.4" y2="247" stroke="#222" stroke-width="1"/>
<line x1="123.6" y1="247" x2="129.2" y2="247" stroke="#222" stroke-width="1.1"/>
<circle cx="46.5" cy="304.3" r="1.85" fill="#0d1a16"/>
<circle cx="48.3" cy="302.4" r="1.85" fill="#0d1a16"/>
<circle cx="50.3" cy="304.6" r="1.85" fill="#0d1a16"/>
<circle cx="52.4" cy="303.4" r="1.85" fill="#0d1a16"/>
<circle cx="54.4" cy="304.4" r="1.85" fill="#0d1a16"/>
<circle cx="55.6" cy="302" r="1.85" fill="#0d1a16"/>
<circle cx="47.6" cy="301.2" r="1.85" fill="#0d1a16"/>
<circle cx="50.2" cy="302.6" r="1.85" fill="#0d1a16"/>
<circle cx="53.6" cy="301.9" r="1.85" fill="#0d1a16"/>
<circle cx="55.9" cy="304.3" r="1.85" fill="#0d1a16"/>
<circle cx="51.5" cy="301" r="1.85" fill="#0d1a16"/>
<circle cx="65.5" cy="304.5" r="1.85" fill="#0d1a16"/>
<circle cx="67.5" cy="302.8" r="1.85" fill="#0d1a16"/>
<circle cx="69.5" cy="304.6" r="1.85" fill="#0d1a16"/>
<circle cx="71.5" cy="303.3" r="1.85" fill="#0d1a16"/>
<circle cx="73.5" cy="304.4" r="1.85" fill="#0d1a16"/>
<circle cx="74.5" cy="302.5" r="1.85" fill="#0d1a16"/>
<circle cx="66.5" cy="301.8" r="1.85" fill="#0d1a16"/>
<circle cx="70.5" cy="301.8" r="1.85" fill="#0d1a16"/>
<circle cx="72.6" cy="305" r="1.85" fill="#0d1a16"/>
<circle cx="69.7" cy="267.9" r="1.85" fill="#0d1a16"/>
<circle cx="84.5" cy="304.5" r="1.85" fill="#0d1a16"/>
<circle cx="86.5" cy="302.6" r="1.85" fill="#0d1a16"/>
<circle cx="88.5" cy="304.6" r="1.85" fill="#0d1a16"/>
<circle cx="90.5" cy="302.8" r="1.85" fill="#0d1a16"/>
<circle cx="92.6" cy="304.4" r="1.85" fill="#0d1a16"/>
<circle cx="93" cy="301.8" r="1.85" fill="#0d1a16"/>
<circle cx="86" cy="300.5" r="1.85" fill="#0d1a16"/>
<circle cx="89.5" cy="300.8" r="1.85" fill="#0d1a16"/>
<circle cx="88.6" cy="261.6" r="1.85" fill="#0d1a16"/>
<circle cx="89.4" cy="282.2" r="1.85" fill="#0d1a16"/>
<circle cx="107.7" cy="212.2" r="1.85" fill="#0d1a16"/>
<circle cx="105.4" cy="261.9" r="1.85" fill="#0d1a16"/>
<circle cx="110" cy="262" r="1.85" fill="#0d1a16"/>
<circle cx="107.3" cy="281" r="1.85" fill="#0d1a16"/>
<circle cx="107.7" cy="290.8" r="1.85" fill="#0d1a16"/>
<circle cx="103.5" cy="304.6" r="1.85" fill="#0d1a16"/>
<circle cx="107.7" cy="304.3" r="1.85" fill="#0d1a16"/>
<circle cx="111.9" cy="304.6" r="1.85" fill="#0d1a16"/>
<circle cx="107.7" cy="243.8" r="1.85" fill="#0d1a16"/>
<circle cx="126.5" cy="232.4" r="1.85" fill="#0d1a16"/>
<circle cx="124.7" cy="239.3" r="1.85" fill="#0d1a16"/>
<circle cx="127.6" cy="240.5" r="1.85" fill="#0d1a16"/>
<circle cx="126.3" cy="242" r="1.85" fill="#0d1a16"/>
<circle cx="125.1" cy="245.7" r="1.85" fill="#0d1a16"/>
<circle cx="128.8" cy="247" r="1.85" fill="#0d1a16"/>
<circle cx="126.3" cy="247.6" r="1.85" fill="#0d1a16"/>
<circle cx="123.2" cy="251.4" r="1.85" fill="#0d1a16"/>
<circle cx="128.2" cy="251.4" r="1.85" fill="#0d1a16"/>
<circle cx="126.3" cy="253" r="1.85" fill="#0d1a16"/>
<circle cx="122.6" cy="254.5" r="1.85" fill="#0d1a16"/>
<circle cx="125.1" cy="256" r="1.85" fill="#0d1a16"/>
<circle cx="130.1" cy="254" r="1.85" fill="#0d1a16"/>
<circle cx="127" cy="257.9" r="1.85" fill="#0d1a16"/>
<circle cx="125.7" cy="261.4" r="1.85" fill="#0d1a16"/>
<circle cx="128.8" cy="270" r="1.85" fill="#0d1a16"/>
<circle cx="126.1" cy="273.4" r="1.85" fill="#0d1a16"/>
<circle cx="125.7" cy="287.2" r="1.85" fill="#0d1a16"/>
<circle cx="129.5" cy="287" r="1.85" fill="#0d1a16"/>
<circle cx="127.6" cy="291" r="1.85" fill="#0d1a16"/>
<circle cx="126.3" cy="296.6" r="1.85" fill="#0d1a16"/>
<text x="199.6" y="232.7" font-size="8.2" text-anchor="middle" textLength="14.3" lengthAdjust="spacingAndGlyphs" stroke="#231f20" stroke-width="0.12">Con</text>
<clipPath id="cp1"><rect x="180.3" y="239.3" width="38.7" height="37.6"/></clipPath><g clip-path="url(#cp1)">
<path d="M197.85,267.34h0.7v0.7h-0.7zM215.73,265.39h0.7v0.7h-0.7zM199.95,267.92h0.7v0.7h-0.7zM187.7,266.35h0.7v0.7h-0.7zM204.57,272.19h0.7v0.7h-0.7zM184.27,262.01h0.7v0.7h-0.7zM184.14,272.54h0.7v0.7h-0.7zM206.98,256.57h0.7v0.7h-0.7zM217.93,275.77h0.7v0.7h-0.7zM205.48,268.5h0.7v0.7h-0.7zM186.67,256.01h0.7v0.7h-0.7zM200.73,256.94h0.7v0.7h-0.7zM187.91,260.73h0.7v0.7h-0.7zM181.84,265.35h0.7v0.7h-0.7zM197.4,273.22h0.7v0.7h-0.7zM200.37,269.02h0.7v0.7h-0.7zM199.64,269.48h0.7v0.7h-0.7zM198.03,261.49h0.7v0.7h-0.7zM218.51,276.41h0.7v0.7h-0.7zM212.54,270.42h0.7v0.7h-0.7zM192.65,260.48h0.7v0.7h-0.7zM191.65,257.16h0.7v0.7h-0.7zM209.74,264.03h0.7v0.7h-0.7zM212.79,263.74h0.7v0.7h-0.7zM217.01,273.32h0.7v0.7h-0.7zM180.72,260.06h0.7v0.7h-0.7zM215.2,265.48h0.7v0.7h-0.7zM217.86,263.97h0.7v0.7h-0.7zM183.47,268.79h0.7v0.7h-0.7zM210.21,261.31h0.7v0.7h-0.7zM184,262.62h0.7v0.7h-0.7zM217.24,271.47h0.7v0.7h-0.7zM185.17,260.82h0.7v0.7h-0.7zM184.53,256.95h0.7v0.7h-0.7zM210.91,259.4h0.7v0.7h-0.7zM201.9,265.01h0.7v0.7h-0.7zM187.93,270.92h0.7v0.7h-0.7zM185.66,269.09h0.7v0.7h-0.7zM185.12,264.45h0.7v0.7h-0.7zM188.77,261.31h0.7v0.7h-0.7zM217.5,272.41h0.7v0.7h-0.7zM192.23,274.11h0.7v0.7h-0.7zM188.69,263.9h0.7v0.7h-0.7zM213.08,269.05h0.7v0.7h-0.7zM184.5,276.28h0.7v0.7h-0.7z" fill="#7088d0" opacity="0.22"/>
<path d="M179.7,243.7 L194.6,243.7 L191.6,248.7 L184.7,255.7 L179.7,256.7 Z" fill="#7f95dc" opacity="0.55" filter="url(#bl1)"/>
<path d="M186.77,253.25h0.7v0.7h-0.7zM189.63,246.55h0.7v0.7h-0.7zM179.86,249.57h0.7v0.7h-0.7zM183.78,255.23h0.7v0.7h-0.7zM181.87,250.42h0.7v0.7h-0.7zM182.12,256.48h0.7v0.7h-0.7zM180.58,255.34h0.7v0.7h-0.7zM180.81,253.63h0.7v0.7h-0.7zM184.72,249.96h0.7v0.7h-0.7zM192.25,244.94h0.7v0.7h-0.7zM180.61,256.6h0.7v0.7h-0.7zM187.28,245.88h0.7v0.7h-0.7zM181.38,250.2h0.7v0.7h-0.7zM181.71,248.76h0.7v0.7h-0.7zM188.96,246.83h0.7v0.7h-0.7zM190.08,245.37h0.7v0.7h-0.7zM182.25,255.3h0.7v0.7h-0.7zM185.67,250.14h0.7v0.7h-0.7zM188.58,250.9h0.7v0.7h-0.7zM185.43,245.1h0.7v0.7h-0.7zM185.01,249.42h0.7v0.7h-0.7zM181.4,247.75h0.7v0.7h-0.7zM185.11,251.35h0.7v0.7h-0.7zM180.12,255.39h0.7v0.7h-0.7zM186.11,251.45h0.7v0.7h-0.7zM183.01,250.25h0.7v0.7h-0.7zM181.23,251.85h0.7v0.7h-0.7zM182.35,253.75h0.7v0.7h-0.7zM180.25,248.3h0.7v0.7h-0.7zM184.83,252.98h0.7v0.7h-0.7zM180.48,250.67h0.7v0.7h-0.7zM182.81,248.36h0.7v0.7h-0.7zM182.2,256.72h0.7v0.7h-0.7zM185.13,247.16h0.7v0.7h-0.7zM179.8,248.19h0.7v0.7h-0.7zM191.18,249.14h0.7v0.7h-0.7zM183.3,244.81h0.7v0.7h-0.7zM180.3,252.75h0.7v0.7h-0.7zM187.2,245.01h0.7v0.7h-0.7zM184.5,254.94h0.7v0.7h-0.7zM183.12,251.55h0.7v0.7h-0.7zM186.81,252.85h0.7v0.7h-0.7zM193.03,246.81h0.7v0.7h-0.7zM190.2,247.48h0.7v0.7h-0.7zM183.95,248.01h0.7v0.7h-0.7zM181.66,256.22h0.7v0.7h-0.7zM185.96,247.84h0.7v0.7h-0.7zM184.88,249.49h0.7v0.7h-0.7zM179.95,253.93h0.7v0.7h-0.7zM185.35,245.98h0.7v0.7h-0.7zM184.96,248.76h0.7v0.7h-0.7zM181.56,251.65h0.7v0.7h-0.7zM190.14,249.82h0.7v0.7h-0.7zM183.36,249.99h0.7v0.7h-0.7zM184.52,253.61h0.7v0.7h-0.7zM181.81,245.88h0.7v0.7h-0.7zM184.36,253.75h0.7v0.7h-0.7zM180.14,251.04h0.7v0.7h-0.7zM186.31,247.03h0.7v0.7h-0.7zM189.64,249.14h0.7v0.7h-0.7zM183.25,248.96h0.7v0.7h-0.7zM193.76,244.8h0.7v0.7h-0.7zM185.07,248.34h0.7v0.7h-0.7zM182.7,250.32h0.7v0.7h-0.7zM182.98,256.65h0.7v0.7h-0.7zM182.12,250.74h0.7v0.7h-0.7zM183.42,250.68h0.7v0.7h-0.7zM183.09,251.69h0.7v0.7h-0.7zM189.84,249.25h0.7v0.7h-0.7zM190.61,248.89h0.7v0.7h-0.7zM187.15,249.39h0.7v0.7h-0.7zM184.28,246.47h0.7v0.7h-0.7zM183.06,251.78h0.7v0.7h-0.7zM183.45,245.3h0.7v0.7h-0.7zM191.67,248.41h0.7v0.7h-0.7zM181.58,253.03h0.7v0.7h-0.7zM188.91,248.12h0.7v0.7h-0.7zM185.76,249.64h0.7v0.7h-0.7zM185.43,249.89h0.7v0.7h-0.7zM191.73,246.91h0.7v0.7h-0.7zM182.76,248.01h0.7v0.7h-0.7zM180.49,255.56h0.7v0.7h-0.7zM185.05,254.25h0.7v0.7h-0.7zM184.25,246.48h0.7v0.7h-0.7zM182.85,256.14h0.7v0.7h-0.7zM180.07,248.71h0.7v0.7h-0.7zM179.89,246.92h0.7v0.7h-0.7zM182.13,254.01h0.7v0.7h-0.7zM184.12,247.17h0.7v0.7h-0.7zM182.44,248.76h0.7v0.7h-0.7zM181.22,253.6h0.7v0.7h-0.7zM187.69,250.53h0.7v0.7h-0.7zM189.17,250.77h0.7v0.7h-0.7zM189.15,249.75h0.7v0.7h-0.7zM185.88,251.42h0.7v0.7h-0.7zM190.35,248.32h0.7v0.7h-0.7zM186.06,249.98h0.7v0.7h-0.7zM192.2,246.38h0.7v0.7h-0.7zM180.63,246.11h0.7v0.7h-0.7zM180.96,245.43h0.7v0.7h-0.7zM179.83,247.94h0.7v0.7h-0.7zM181.39,253.61h0.7v0.7h-0.7zM193.85,245.06h0.7v0.7h-0.7zM186.78,247.39h0.7v0.7h-0.7zM187.79,248.81h0.7v0.7h-0.7zM183.3,245.83h0.7v0.7h-0.7zM179.89,247.67h0.7v0.7h-0.7zM184.76,249.66h0.7v0.7h-0.7zM186.93,247.23h0.7v0.7h-0.7zM185.09,247.7h0.7v0.7h-0.7z" fill="#3a58c0" opacity="0.45"/>
<g filter="url(#bl1)">
<path d="M173.7,240.8 L192.42,241.43 Q195.6,242.48 195.6,245 Q195.6,247.52 192.42,248.57 L173.7,249.2 Z" fill="#5270cc" opacity="0.85"/>
<path d="M173.7,241.64 L192.04,242.14 Q195.12,242.98 195.12,245 Q195.12,247.02 192.04,247.86 L173.7,248.36 Z" fill="#2244b0" opacity="0.95"/>
<path d="M173.7,243.32 L191.66,243.57 Q194.65,243.99 194.65,245 Q194.65,246.01 191.66,246.43 L173.7,246.68 Z" fill="#2a6ad0" opacity="1"/>
<path d="M173.7,243.91 L191.15,244.07 Q194.01,244.34 194.01,245 Q194.01,245.66 191.15,245.93 L173.7,246.09 Z" fill="#40b0b8" opacity="1"/>
<path d="M173.7,244.41 L190.51,244.5 Q193.22,244.65 193.22,245 Q193.22,245.35 190.51,245.5 L173.7,245.59 Z" fill="#98cc50" opacity="0.95"/>
</g>
<g filter="url(#bl1)" transform="translate(200.6 244.6) rotate(0)">
<ellipse cx="0" cy="0" rx="6" ry="1" fill="#c8d2f0" opacity="0.55"/>
<ellipse cx="0" cy="0" rx="4.8" ry="0.8" fill="#5a78d0" opacity="0.8"/>
</g>
<path d="M198.23,245.81h0.7v0.7h-0.7zM204.18,246.8h0.7v0.7h-0.7zM197.2,243.08h0.7v0.7h-0.7zM196.66,243.05h0.7v0.7h-0.7zM204.88,242.48h0.7v0.7h-0.7zM202.04,242.98h0.7v0.7h-0.7zM198.73,244.29h0.7v0.7h-0.7zM206.33,245.35h0.7v0.7h-0.7zM194.8,243.36h0.7v0.7h-0.7zM196.65,246.93h0.7v0.7h-0.7zM205.94,246.54h0.7v0.7h-0.7zM206.17,246.17h0.7v0.7h-0.7zM207.89,246.46h0.7v0.7h-0.7zM198.19,246.8h0.7v0.7h-0.7zM201.41,246.23h0.7v0.7h-0.7zM202.5,244.28h0.7v0.7h-0.7zM199.7,244.28h0.7v0.7h-0.7zM198.99,242.4h0.7v0.7h-0.7zM206.08,246.49h0.7v0.7h-0.7zM208.4,245.85h0.7v0.7h-0.7zM202.36,246.19h0.7v0.7h-0.7zM196.49,245.76h0.7v0.7h-0.7zM200.81,242.76h0.7v0.7h-0.7zM197.44,244.84h0.7v0.7h-0.7zM198.15,244.46h0.7v0.7h-0.7z" fill="#6a84d0" opacity="0.4"/>
</g>
<path d="M176.7,275.3H179.7M177.8,272.76H179.7M177.8,271.27H179.7M177.8,270.21H179.7M177.8,269.39H179.7M177.8,268.73H179.7M177.8,268.16H179.7M177.8,267.67H179.7M177.8,267.24H179.7M176.7,266.85H179.7M177.8,264.31H179.7M177.8,262.82H179.7M177.8,261.76H179.7M177.8,260.94H179.7M177.8,260.28H179.7M177.8,259.71H179.7M177.8,259.22H179.7M177.8,258.79H179.7M176.7,258.4H179.7M177.8,255.86H179.7M177.8,254.37H179.7M177.8,253.31H179.7M177.8,252.49H179.7M177.8,251.83H179.7M177.8,251.26H179.7M177.8,250.77H179.7M177.8,250.34H179.7M176.7,249.95H179.7M177.8,247.41H179.7M177.8,245.92H179.7M177.8,244.86H179.7M177.8,244.04H179.7M177.8,243.38H179.7M177.8,242.81H179.7M177.8,242.32H179.7M177.8,241.89H179.7M176.7,241.5H179.7" stroke="#000" stroke-width="0.85" fill="none"/>
<path d="M181.9,277.5V280.5M184.53,277.5V279.4M186.06,277.5V279.4M187.15,277.5V279.4M188,277.5V279.4M188.69,277.5V279.4M189.27,277.5V279.4M189.78,277.5V279.4M190.22,277.5V279.4M190.62,277.5V280.5M193.25,277.5V279.4M194.79,277.5V279.4M195.88,277.5V279.4M196.72,277.5V279.4M197.41,277.5V279.4M198,277.5V279.4M198.5,277.5V279.4M198.95,277.5V279.4M199.35,277.5V280.5M201.98,277.5V279.4M203.51,277.5V279.4M204.6,277.5V279.4M205.45,277.5V279.4M206.14,277.5V279.4M206.72,277.5V279.4M207.23,277.5V279.4M207.67,277.5V279.4M208.07,277.5V280.5M210.7,277.5V279.4M212.24,277.5V279.4M213.33,277.5V279.4M214.17,277.5V279.4M214.86,277.5V279.4M215.45,277.5V279.4M215.95,277.5V279.4M216.4,277.5V279.4M216.8,277.5V280.5" stroke="#000" stroke-width="0.85" fill="none"/>
<rect x="179.7" y="238.7" width="39.9" height="38.8" fill="none" stroke="#111" stroke-width="1.2"/>
<line x1="179.7" y1="256.4" x2="219.6" y2="256.4" stroke="#a857a8" stroke-width="1"/>
<line x1="194.6" y1="238.7" x2="194.6" y2="256.4" stroke="#a857a8" stroke-width="1"/>
<text x="181.8" y="264.3" font-size="7.8" fill="#c41538" textLength="8.3" lengthAdjust="spacingAndGlyphs" stroke="#c41538" stroke-width="0.2">94</text>
<text x="217.1" y="264.3" font-size="7.8" text-anchor="end" fill="#c41538" textLength="10.5" lengthAdjust="spacingAndGlyphs" stroke="#c41538" stroke-width="0.2">0.6</text>
<text x="248.3" y="232.7" font-size="8.2" text-anchor="middle" textLength="13" lengthAdjust="spacingAndGlyphs" stroke="#231f20" stroke-width="0.12">K-/-</text>
<clipPath id="cp2"><rect x="229.4" y="239.2" width="38" height="37.6"/></clipPath><g clip-path="url(#cp2)">
<path d="M247.45,269.28h0.7v0.7h-0.7zM254.59,258.57h0.7v0.7h-0.7zM230.2,263.39h0.7v0.7h-0.7zM239.99,272.46h0.7v0.7h-0.7zM255.49,268.11h0.7v0.7h-0.7zM250.56,269.36h0.7v0.7h-0.7zM235.21,264.75h0.7v0.7h-0.7zM235.84,274.44h0.7v0.7h-0.7zM231.99,272.63h0.7v0.7h-0.7zM232.58,269.89h0.7v0.7h-0.7zM242.34,264.02h0.7v0.7h-0.7zM261.14,255.99h0.7v0.7h-0.7zM232.06,274.63h0.7v0.7h-0.7zM248.73,257.49h0.7v0.7h-0.7zM266.52,275.29h0.7v0.7h-0.7zM233.99,264.4h0.7v0.7h-0.7zM234.82,262.1h0.7v0.7h-0.7zM252.92,259h0.7v0.7h-0.7zM255.72,256.67h0.7v0.7h-0.7zM236.17,272.57h0.7v0.7h-0.7zM244.7,264.31h0.7v0.7h-0.7zM251.97,265.52h0.7v0.7h-0.7zM244.11,256.23h0.7v0.7h-0.7zM256.82,275.72h0.7v0.7h-0.7zM266.12,269.4h0.7v0.7h-0.7zM243.06,263.15h0.7v0.7h-0.7zM255.47,269.61h0.7v0.7h-0.7zM234.03,260.49h0.7v0.7h-0.7zM243.32,266.24h0.7v0.7h-0.7zM259.94,266h0.7v0.7h-0.7zM230.85,272.71h0.7v0.7h-0.7zM245.8,266.4h0.7v0.7h-0.7zM238.06,264.49h0.7v0.7h-0.7zM244.24,271.66h0.7v0.7h-0.7zM233.62,267.04h0.7v0.7h-0.7zM236.42,270.07h0.7v0.7h-0.7zM231.17,261.35h0.7v0.7h-0.7zM242.6,268.85h0.7v0.7h-0.7zM231.74,265.15h0.7v0.7h-0.7zM237.57,261.46h0.7v0.7h-0.7zM247.52,275.54h0.7v0.7h-0.7zM247.69,275.48h0.7v0.7h-0.7zM236.03,274.82h0.7v0.7h-0.7zM243.35,259.54h0.7v0.7h-0.7zM257.65,274.57h0.7v0.7h-0.7z" fill="#7088d0" opacity="0.22"/>
<path d="M228.8,243.6 L242.9,243.6 L239.9,248.6 L233.8,255.6 L228.8,256.6 Z" fill="#7f95dc" opacity="0.55" filter="url(#bl1)"/>
<path d="M232.45,253.51h0.7v0.7h-0.7zM231.42,247.6h0.7v0.7h-0.7zM230.87,247.53h0.7v0.7h-0.7zM239.15,246.29h0.7v0.7h-0.7zM236.29,247.38h0.7v0.7h-0.7zM232.95,250.21h0.7v0.7h-0.7zM229,248.19h0.7v0.7h-0.7zM230.87,255.93h0.7v0.7h-0.7zM232.42,255.65h0.7v0.7h-0.7zM236.75,250.18h0.7v0.7h-0.7zM233.94,250.19h0.7v0.7h-0.7zM233.22,246.13h0.7v0.7h-0.7zM230.7,253.4h0.7v0.7h-0.7zM235.05,246.9h0.7v0.7h-0.7zM231.66,251.4h0.7v0.7h-0.7zM232.37,250.57h0.7v0.7h-0.7zM237.34,249.74h0.7v0.7h-0.7zM230.64,250.98h0.7v0.7h-0.7zM232.12,247.66h0.7v0.7h-0.7zM231.54,249.36h0.7v0.7h-0.7zM229.83,253.07h0.7v0.7h-0.7zM229.41,246.44h0.7v0.7h-0.7zM237.81,246.68h0.7v0.7h-0.7zM231.66,255.7h0.7v0.7h-0.7zM234.08,253.91h0.7v0.7h-0.7zM230.73,257.23h0.7v0.7h-0.7zM231.79,252.62h0.7v0.7h-0.7zM233.87,254.06h0.7v0.7h-0.7zM233.61,248.44h0.7v0.7h-0.7zM231.12,253.49h0.7v0.7h-0.7zM230.38,247.53h0.7v0.7h-0.7zM229.77,252.97h0.7v0.7h-0.7zM236.64,251.66h0.7v0.7h-0.7zM229.35,250.31h0.7v0.7h-0.7zM233.64,245.8h0.7v0.7h-0.7zM228.84,257.57h0.7v0.7h-0.7zM230.51,248.52h0.7v0.7h-0.7zM232.59,252.36h0.7v0.7h-0.7zM229.89,250.71h0.7v0.7h-0.7zM228.88,248.95h0.7v0.7h-0.7zM236.09,250.76h0.7v0.7h-0.7zM238.24,248.46h0.7v0.7h-0.7zM229.25,251.12h0.7v0.7h-0.7zM232.44,253.49h0.7v0.7h-0.7zM240.77,247.96h0.7v0.7h-0.7zM237.09,249.22h0.7v0.7h-0.7zM232.24,248.34h0.7v0.7h-0.7zM231.67,249.16h0.7v0.7h-0.7zM229.34,249.77h0.7v0.7h-0.7zM230.02,254.46h0.7v0.7h-0.7zM237.26,244.65h0.7v0.7h-0.7zM239.71,247.08h0.7v0.7h-0.7zM235.58,251.81h0.7v0.7h-0.7zM233.49,248.36h0.7v0.7h-0.7zM234.93,246.38h0.7v0.7h-0.7zM240.98,246.06h0.7v0.7h-0.7zM240.41,247.44h0.7v0.7h-0.7zM233.08,249.65h0.7v0.7h-0.7zM229.27,246.27h0.7v0.7h-0.7zM233.89,250.34h0.7v0.7h-0.7zM229.41,251.56h0.7v0.7h-0.7zM230.62,255.05h0.7v0.7h-0.7zM236.49,246.23h0.7v0.7h-0.7zM228.87,247.83h0.7v0.7h-0.7zM241.04,246.55h0.7v0.7h-0.7zM235.55,249.43h0.7v0.7h-0.7zM233.66,255.02h0.7v0.7h-0.7zM231.81,253.94h0.7v0.7h-0.7zM235.01,252.05h0.7v0.7h-0.7zM241.46,246.1h0.7v0.7h-0.7zM230.73,251.54h0.7v0.7h-0.7zM233,245.73h0.7v0.7h-0.7zM229.53,245h0.7v0.7h-0.7zM239.05,245.99h0.7v0.7h-0.7zM234.78,252.69h0.7v0.7h-0.7zM232.9,254.51h0.7v0.7h-0.7zM230.34,248.61h0.7v0.7h-0.7zM232.58,254.8h0.7v0.7h-0.7zM235.15,244.65h0.7v0.7h-0.7zM229.21,247.97h0.7v0.7h-0.7zM232.29,255.65h0.7v0.7h-0.7zM235.63,248h0.7v0.7h-0.7zM236.37,247.12h0.7v0.7h-0.7zM234.1,250.79h0.7v0.7h-0.7zM231.49,252.05h0.7v0.7h-0.7zM229.28,255.28h0.7v0.7h-0.7zM231.32,245.94h0.7v0.7h-0.7zM237.1,248.59h0.7v0.7h-0.7zM231.82,254.29h0.7v0.7h-0.7zM237.95,250.17h0.7v0.7h-0.7zM242.33,244.89h0.7v0.7h-0.7zM240.96,246.46h0.7v0.7h-0.7zM240.64,246.6h0.7v0.7h-0.7zM229.56,251.11h0.7v0.7h-0.7zM235.66,252.5h0.7v0.7h-0.7zM232.24,251.49h0.7v0.7h-0.7zM228.94,250.44h0.7v0.7h-0.7zM239.51,249.02h0.7v0.7h-0.7zM231.91,245.26h0.7v0.7h-0.7zM238.68,250.15h0.7v0.7h-0.7zM230.22,256.48h0.7v0.7h-0.7zM237.13,247.94h0.7v0.7h-0.7zM230.68,254.04h0.7v0.7h-0.7zM237.21,245.33h0.7v0.7h-0.7zM236.86,249.98h0.7v0.7h-0.7zM238.44,249.48h0.7v0.7h-0.7zM229.9,250.82h0.7v0.7h-0.7zM235.11,249.94h0.7v0.7h-0.7zM229.93,247.4h0.7v0.7h-0.7zM230.86,248.82h0.7v0.7h-0.7z" fill="#3a58c0" opacity="0.45"/>
<g filter="url(#bl1)">
<path d="M222.8,240.8 L240.88,241.43 Q243.9,242.48 243.9,245 Q243.9,247.52 240.88,248.57 L222.8,249.2 Z" fill="#5270cc" opacity="0.85"/>
<path d="M222.8,241.64 L240.52,242.14 Q243.45,242.98 243.45,245 Q243.45,247.02 240.52,247.86 L222.8,248.36 Z" fill="#2244b0" opacity="0.95"/>
<path d="M222.8,243.32 L240.16,243.57 Q242.99,243.99 242.99,245 Q242.99,246.01 240.16,246.43 L222.8,246.68 Z" fill="#2a6ad0" opacity="1"/>
<path d="M222.8,243.91 L239.67,244.07 Q242.39,244.34 242.39,245 Q242.39,245.66 239.67,245.93 L222.8,246.09 Z" fill="#40b0b8" opacity="1"/>
<path d="M222.8,244.41 L239.07,244.5 Q241.64,244.65 241.64,245 Q241.64,245.35 239.07,245.5 L222.8,245.59 Z" fill="#98cc50" opacity="0.95"/>
</g>
<g filter="url(#bl1)" transform="translate(248.9 244.6) rotate(0)">
<ellipse cx="0" cy="0" rx="6" ry="1" fill="#c8d2f0" opacity="0.55"/>
<ellipse cx="0" cy="0" rx="4.8" ry="0.8" fill="#5a78d0" opacity="0.8"/>
</g>
<path d="M244.4,245.82h0.7v0.7h-0.7zM252.03,247.24h0.7v0.7h-0.7zM246.7,243.13h0.7v0.7h-0.7zM253.18,245.55h0.7v0.7h-0.7zM247.14,245.71h0.7v0.7h-0.7zM248.45,246.27h0.7v0.7h-0.7zM244.56,242.94h0.7v0.7h-0.7zM255.52,243.75h0.7v0.7h-0.7zM246.55,246.43h0.7v0.7h-0.7zM251.74,242.5h0.7v0.7h-0.7zM250.62,245.58h0.7v0.7h-0.7zM245.21,245.51h0.7v0.7h-0.7zM244.62,243.62h0.7v0.7h-0.7zM244.06,242.83h0.7v0.7h-0.7zM256.59,244.02h0.7v0.7h-0.7zM256.77,244.23h0.7v0.7h-0.7zM251.41,246.84h0.7v0.7h-0.7zM252.52,242.27h0.7v0.7h-0.7zM251.15,245.4h0.7v0.7h-0.7zM245.44,242.17h0.7v0.7h-0.7zM255.15,244.68h0.7v0.7h-0.7zM245.61,244.32h0.7v0.7h-0.7zM245.95,246.39h0.7v0.7h-0.7zM249.91,242.21h0.7v0.7h-0.7zM254.35,242.14h0.7v0.7h-0.7z" fill="#6a84d0" opacity="0.4"/>
</g>
<path d="M225.8,275.2H228.8M226.9,272.66H228.8M226.9,271.17H228.8M226.9,270.11H228.8M226.9,269.29H228.8M226.9,268.63H228.8M226.9,268.06H228.8M226.9,267.57H228.8M226.9,267.14H228.8M225.8,266.75H228.8M226.9,264.21H228.8M226.9,262.72H228.8M226.9,261.66H228.8M226.9,260.84H228.8M226.9,260.18H228.8M226.9,259.61H228.8M226.9,259.12H228.8M226.9,258.69H228.8M225.8,258.3H228.8M226.9,255.76H228.8M226.9,254.27H228.8M226.9,253.21H228.8M226.9,252.39H228.8M226.9,251.73H228.8M226.9,251.16H228.8M226.9,250.67H228.8M226.9,250.24H228.8M225.8,249.85H228.8M226.9,247.31H228.8M226.9,245.82H228.8M226.9,244.76H228.8M226.9,243.94H228.8M226.9,243.28H228.8M226.9,242.71H228.8M226.9,242.22H228.8M226.9,241.79H228.8M225.8,241.4H228.8" stroke="#000" stroke-width="0.85" fill="none"/>
<path d="M231,277.4V280.4M233.57,277.4V279.3M235.08,277.4V279.3M236.15,277.4V279.3M236.98,277.4V279.3M237.65,277.4V279.3M238.22,277.4V279.3M238.72,277.4V279.3M239.16,277.4V279.3M239.55,277.4V280.4M242.12,277.4V279.3M243.63,277.4V279.3M244.7,277.4V279.3M245.53,277.4V279.3M246.2,277.4V279.3M246.77,277.4V279.3M247.27,277.4V279.3M247.71,277.4V279.3M248.1,277.4V280.4M250.67,277.4V279.3M252.18,277.4V279.3M253.25,277.4V279.3M254.08,277.4V279.3M254.75,277.4V279.3M255.32,277.4V279.3M255.82,277.4V279.3M256.26,277.4V279.3M256.65,277.4V280.4M259.22,277.4V279.3M260.73,277.4V279.3M261.8,277.4V279.3M262.63,277.4V279.3M263.3,277.4V279.3M263.87,277.4V279.3M264.37,277.4V279.3M264.81,277.4V279.3M265.2,277.4V280.4" stroke="#000" stroke-width="0.85" fill="none"/>
<rect x="228.8" y="238.6" width="39.2" height="38.8" fill="none" stroke="#111" stroke-width="1.2"/>
<line x1="228.8" y1="256.2" x2="268" y2="256.2" stroke="#a857a8" stroke-width="1"/>
<line x1="242.9" y1="238.6" x2="242.9" y2="256.2" stroke="#a857a8" stroke-width="1"/>
<text x="230.9" y="264.3" font-size="7.8" fill="#c41538" textLength="8.3" lengthAdjust="spacingAndGlyphs" stroke="#c41538" stroke-width="0.2">94</text>
<text x="265.5" y="264.3" font-size="7.8" text-anchor="end" fill="#c41538" textLength="10.5" lengthAdjust="spacingAndGlyphs" stroke="#c41538" stroke-width="0.2">0.3</text>
<text x="296.8" y="232.7" font-size="8.2" text-anchor="middle" textLength="14.5" lengthAdjust="spacingAndGlyphs" stroke="#231f20" stroke-width="0.12">Q/+</text>
<clipPath id="cp3"><rect x="277.5" y="239" width="38.7" height="37.6"/></clipPath><g clip-path="url(#cp3)">
<path d="M278.33,251.52h0.7v0.7h-0.7zM291.61,267.41h0.7v0.7h-0.7zM282.74,251.53h0.7v0.7h-0.7zM285.99,269.46h0.7v0.7h-0.7zM283.04,268.99h0.7v0.7h-0.7zM301.01,252.2h0.7v0.7h-0.7zM296.59,260.85h0.7v0.7h-0.7zM292.3,276.1h0.7v0.7h-0.7zM281.15,248.97h0.7v0.7h-0.7zM310.7,259.6h0.7v0.7h-0.7zM284.83,257.58h0.7v0.7h-0.7zM290.63,274.95h0.7v0.7h-0.7zM285.24,254.43h0.7v0.7h-0.7zM298.31,263.62h0.7v0.7h-0.7zM311.19,271.72h0.7v0.7h-0.7zM290.31,254.07h0.7v0.7h-0.7zM307.09,275.89h0.7v0.7h-0.7zM278.96,268.83h0.7v0.7h-0.7zM308.21,266.5h0.7v0.7h-0.7zM285.52,270.55h0.7v0.7h-0.7zM303.37,253.79h0.7v0.7h-0.7zM300.27,254.49h0.7v0.7h-0.7zM279.35,257.74h0.7v0.7h-0.7zM289.57,259.41h0.7v0.7h-0.7zM300.47,271.65h0.7v0.7h-0.7zM311.45,275.54h0.7v0.7h-0.7zM312.57,270.36h0.7v0.7h-0.7zM288.59,253.3h0.7v0.7h-0.7zM299.67,263.57h0.7v0.7h-0.7zM301.44,251h0.7v0.7h-0.7zM284.63,274h0.7v0.7h-0.7zM298.89,267.73h0.7v0.7h-0.7zM281.24,259.5h0.7v0.7h-0.7zM309.66,266.45h0.7v0.7h-0.7zM312.51,253.87h0.7v0.7h-0.7zM293.77,270.66h0.7v0.7h-0.7zM293.42,270.33h0.7v0.7h-0.7zM297.5,251.68h0.7v0.7h-0.7zM281.35,275.73h0.7v0.7h-0.7zM282.06,253.8h0.7v0.7h-0.7zM289.6,268.23h0.7v0.7h-0.7zM307.71,261.62h0.7v0.7h-0.7zM295.29,270.32h0.7v0.7h-0.7zM287.6,258.75h0.7v0.7h-0.7zM299.28,266.09h0.7v0.7h-0.7zM279.23,251.51h0.7v0.7h-0.7zM282.71,268.56h0.7v0.7h-0.7zM302.08,275.45h0.7v0.7h-0.7zM304.69,255.48h0.7v0.7h-0.7zM304.62,275.78h0.7v0.7h-0.7zM290.07,248.71h0.7v0.7h-0.7zM290.99,256.25h0.7v0.7h-0.7zM284.05,249.65h0.7v0.7h-0.7zM282.26,272.45h0.7v0.7h-0.7zM279.64,265.47h0.7v0.7h-0.7zM285.11,253.77h0.7v0.7h-0.7zM306.54,256.7h0.7v0.7h-0.7zM284.32,261.04h0.7v0.7h-0.7zM302.15,262.98h0.7v0.7h-0.7zM307.9,259.56h0.7v0.7h-0.7zM296.19,268.34h0.7v0.7h-0.7zM294.01,268.33h0.7v0.7h-0.7zM294.19,252.12h0.7v0.7h-0.7zM282.21,270.17h0.7v0.7h-0.7zM303.9,274.61h0.7v0.7h-0.7zM301.99,264.52h0.7v0.7h-0.7zM283.7,272.12h0.7v0.7h-0.7zM282.05,260.21h0.7v0.7h-0.7zM282.81,258.98h0.7v0.7h-0.7zM288.62,260.23h0.7v0.7h-0.7zM302.72,263.46h0.7v0.7h-0.7zM286.37,270.05h0.7v0.7h-0.7zM303.56,271.4h0.7v0.7h-0.7zM279.05,265.49h0.7v0.7h-0.7zM309.15,255.6h0.7v0.7h-0.7zM284.96,271.03h0.7v0.7h-0.7zM290.6,259.56h0.7v0.7h-0.7zM306.44,259.08h0.7v0.7h-0.7zM284.83,254.36h0.7v0.7h-0.7zM289.96,267.8h0.7v0.7h-0.7zM290.75,269.84h0.7v0.7h-0.7zM280.2,255.32h0.7v0.7h-0.7zM299.71,261.73h0.7v0.7h-0.7zM295.34,274.4h0.7v0.7h-0.7zM287.58,253.45h0.7v0.7h-0.7zM279.08,261.81h0.7v0.7h-0.7zM288.27,261.57h0.7v0.7h-0.7zM278.09,248.41h0.7v0.7h-0.7zM291.15,269.46h0.7v0.7h-0.7zM288.39,273.77h0.7v0.7h-0.7zM298.12,259.62h0.7v0.7h-0.7zM305.02,254.88h0.7v0.7h-0.7zM299.02,271.93h0.7v0.7h-0.7zM296.78,257.29h0.7v0.7h-0.7zM281.25,264.36h0.7v0.7h-0.7zM284.45,258.78h0.7v0.7h-0.7zM296.83,274.56h0.7v0.7h-0.7zM301.4,262.84h0.7v0.7h-0.7zM307.86,256.98h0.7v0.7h-0.7zM291.43,267.23h0.7v0.7h-0.7zM297.24,254.56h0.7v0.7h-0.7zM292.23,271.29h0.7v0.7h-0.7zM286.36,268.02h0.7v0.7h-0.7zM279.58,274.94h0.7v0.7h-0.7zM301.77,257.4h0.7v0.7h-0.7zM312.21,270.54h0.7v0.7h-0.7zM280.05,255.3h0.7v0.7h-0.7zM295.06,276.15h0.7v0.7h-0.7zM282.81,249.72h0.7v0.7h-0.7zM288.81,249.65h0.7v0.7h-0.7zM292.17,263.37h0.7v0.7h-0.7zM293.27,252.33h0.7v0.7h-0.7zM278.71,270.72h0.7v0.7h-0.7zM293.26,261.75h0.7v0.7h-0.7zM294.58,267.46h0.7v0.7h-0.7zM309.34,271.39h0.7v0.7h-0.7zM303.28,257.82h0.7v0.7h-0.7zM283.79,250.9h0.7v0.7h-0.7zM307.88,249.98h0.7v0.7h-0.7zM297.77,273.69h0.7v0.7h-0.7z" fill="#7088d0" opacity="0.28"/>
<path d="M276.9,244.4 L306.9,244.4 L309.9,250.4 L302.9,257.4 L276.9,260.4 Z" fill="#8fa2e0" opacity="0.5" filter="url(#bl2)"/>
<path d="M279.53,248.25h0.7v0.7h-0.7zM287.21,260.6h0.7v0.7h-0.7zM293.77,257.36h0.7v0.7h-0.7zM280.31,253.56h0.7v0.7h-0.7zM305.56,253.81h0.7v0.7h-0.7zM309.02,260.27h0.7v0.7h-0.7zM289.51,244.41h0.7v0.7h-0.7zM302.58,246.68h0.7v0.7h-0.7zM277.22,257.55h0.7v0.7h-0.7zM305.56,259.46h0.7v0.7h-0.7zM309.32,248.03h0.7v0.7h-0.7zM279.67,246.57h0.7v0.7h-0.7zM310.14,246.41h0.7v0.7h-0.7zM282.32,244.76h0.7v0.7h-0.7zM278.58,245.09h0.7v0.7h-0.7zM288.9,247.34h0.7v0.7h-0.7zM287.43,261.12h0.7v0.7h-0.7zM282.59,259.06h0.7v0.7h-0.7zM302,254.63h0.7v0.7h-0.7zM296.47,258.26h0.7v0.7h-0.7zM296.86,248.53h0.7v0.7h-0.7zM288.1,248.79h0.7v0.7h-0.7zM290.52,262.17h0.7v0.7h-0.7zM291.41,245.65h0.7v0.7h-0.7zM293.11,259.03h0.7v0.7h-0.7zM292.05,257.04h0.7v0.7h-0.7zM279.99,245.52h0.7v0.7h-0.7zM299.4,245.27h0.7v0.7h-0.7zM287.17,251.32h0.7v0.7h-0.7zM283.48,245.05h0.7v0.7h-0.7zM277.13,261.53h0.7v0.7h-0.7zM300.32,261.53h0.7v0.7h-0.7zM293.62,261.58h0.7v0.7h-0.7zM306.23,255.52h0.7v0.7h-0.7zM294.76,253.56h0.7v0.7h-0.7zM284.57,251.17h0.7v0.7h-0.7zM301.48,247.91h0.7v0.7h-0.7zM305.8,253.58h0.7v0.7h-0.7zM297.44,259.19h0.7v0.7h-0.7zM298.87,246.88h0.7v0.7h-0.7zM285.32,244.42h0.7v0.7h-0.7zM277.83,261.53h0.7v0.7h-0.7zM297.06,261.84h0.7v0.7h-0.7zM303.44,250.08h0.7v0.7h-0.7zM309.78,261.01h0.7v0.7h-0.7zM292.41,245.9h0.7v0.7h-0.7zM287.73,247.39h0.7v0.7h-0.7zM289.33,245.89h0.7v0.7h-0.7zM301.15,262.03h0.7v0.7h-0.7zM284.07,258.44h0.7v0.7h-0.7zM296.77,253.09h0.7v0.7h-0.7zM307.75,251.19h0.7v0.7h-0.7zM304.82,245.03h0.7v0.7h-0.7zM309.72,247.69h0.7v0.7h-0.7zM277.03,260.26h0.7v0.7h-0.7zM301.43,256.55h0.7v0.7h-0.7zM302.94,251.19h0.7v0.7h-0.7zM280.79,250.13h0.7v0.7h-0.7zM309.32,262.07h0.7v0.7h-0.7zM284.72,252.36h0.7v0.7h-0.7zM292.22,260.68h0.7v0.7h-0.7zM277.09,259.33h0.7v0.7h-0.7zM285.52,254.28h0.7v0.7h-0.7zM281.29,245.91h0.7v0.7h-0.7zM306.92,253.45h0.7v0.7h-0.7zM309.94,259.97h0.7v0.7h-0.7zM302.48,245.74h0.7v0.7h-0.7zM296.94,262.26h0.7v0.7h-0.7zM294,245.59h0.7v0.7h-0.7zM283.18,262.18h0.7v0.7h-0.7zM310.11,248.85h0.7v0.7h-0.7zM287.73,257.27h0.7v0.7h-0.7zM294.16,247.74h0.7v0.7h-0.7zM310.37,255.57h0.7v0.7h-0.7zM289.32,244.8h0.7v0.7h-0.7zM294.25,257.94h0.7v0.7h-0.7zM282.95,245.97h0.7v0.7h-0.7zM301.52,260.97h0.7v0.7h-0.7zM289.72,252.91h0.7v0.7h-0.7zM298.54,253.76h0.7v0.7h-0.7zM281.26,249.35h0.7v0.7h-0.7zM283.91,247.95h0.7v0.7h-0.7zM279.9,251.44h0.7v0.7h-0.7zM284.35,259.66h0.7v0.7h-0.7zM287.85,261.74h0.7v0.7h-0.7zM304.48,249.25h0.7v0.7h-0.7zM282.14,254.7h0.7v0.7h-0.7zM293.02,254.03h0.7v0.7h-0.7zM281.09,253.96h0.7v0.7h-0.7zM302.72,252.41h0.7v0.7h-0.7zM285.58,261h0.7v0.7h-0.7zM286.97,262.32h0.7v0.7h-0.7zM300.32,244.44h0.7v0.7h-0.7zM292.11,247.09h0.7v0.7h-0.7zM303.64,251.98h0.7v0.7h-0.7zM279.81,261.54h0.7v0.7h-0.7zM304.08,255.34h0.7v0.7h-0.7zM296.2,245.74h0.7v0.7h-0.7zM310.31,249.83h0.7v0.7h-0.7zM294.71,253.22h0.7v0.7h-0.7zM292.96,244.73h0.7v0.7h-0.7zM307.27,253.26h0.7v0.7h-0.7zM290.28,259.89h0.7v0.7h-0.7zM306.14,257.34h0.7v0.7h-0.7zM307.75,250.69h0.7v0.7h-0.7zM280.46,250.66h0.7v0.7h-0.7zM297.36,258.56h0.7v0.7h-0.7zM301.87,255.73h0.7v0.7h-0.7zM297.33,256.39h0.7v0.7h-0.7zM296.44,244.67h0.7v0.7h-0.7zM295.49,249.36h0.7v0.7h-0.7zM279.36,255.42h0.7v0.7h-0.7zM305.49,249.49h0.7v0.7h-0.7zM299.68,255.66h0.7v0.7h-0.7zM300.07,260.1h0.7v0.7h-0.7zM300.55,245.83h0.7v0.7h-0.7zM297.88,250.67h0.7v0.7h-0.7zM291.07,256.55h0.7v0.7h-0.7zM282.8,255.69h0.7v0.7h-0.7zM308.8,245.78h0.7v0.7h-0.7zM305.85,257.14h0.7v0.7h-0.7zM290.64,258.18h0.7v0.7h-0.7zM279.6,247.3h0.7v0.7h-0.7zM310.82,255.59h0.7v0.7h-0.7zM282.6,246.73h0.7v0.7h-0.7zM292.09,254.23h0.7v0.7h-0.7zM310.55,247.75h0.7v0.7h-0.7zM298.51,252.33h0.7v0.7h-0.7zM295.84,261.35h0.7v0.7h-0.7zM280.92,259.43h0.7v0.7h-0.7zM301.77,249.22h0.7v0.7h-0.7zM280.98,257.84h0.7v0.7h-0.7zM305.91,250.62h0.7v0.7h-0.7zM281.59,254.39h0.7v0.7h-0.7zM299.7,250.85h0.7v0.7h-0.7zM290.87,246.24h0.7v0.7h-0.7zM281.7,248.4h0.7v0.7h-0.7zM302.67,246.59h0.7v0.7h-0.7zM283.63,252.76h0.7v0.7h-0.7zM284.04,248.72h0.7v0.7h-0.7zM301.95,248.61h0.7v0.7h-0.7zM295.99,245.92h0.7v0.7h-0.7zM294.5,256.97h0.7v0.7h-0.7zM292.12,247.82h0.7v0.7h-0.7zM277.93,249.35h0.7v0.7h-0.7zM290.79,246.22h0.7v0.7h-0.7zM291.4,253.55h0.7v0.7h-0.7zM279.08,256.36h0.7v0.7h-0.7zM309.4,257.05h0.7v0.7h-0.7zM292.19,259.39h0.7v0.7h-0.7zM309.03,261.5h0.7v0.7h-0.7zM309.25,258.18h0.7v0.7h-0.7zM308.97,258.11h0.7v0.7h-0.7zM287.95,246.82h0.7v0.7h-0.7zM293.46,257.05h0.7v0.7h-0.7zM286.05,250.88h0.7v0.7h-0.7zM279.7,245.14h0.7v0.7h-0.7zM285.71,259.67h0.7v0.7h-0.7zM278.95,247.1h0.7v0.7h-0.7zM290.48,261.83h0.7v0.7h-0.7zM284.3,245.19h0.7v0.7h-0.7zM278.56,250.6h0.7v0.7h-0.7zM277.09,256.47h0.7v0.7h-0.7zM279.01,247.82h0.7v0.7h-0.7zM279.5,249.26h0.7v0.7h-0.7zM279.91,247.36h0.7v0.7h-0.7zM283.49,248.6h0.7v0.7h-0.7zM298.47,251.06h0.7v0.7h-0.7zM283.95,244.62h0.7v0.7h-0.7zM306.32,259.77h0.7v0.7h-0.7z" fill="#3a58c0" opacity="0.4"/>
<g filter="url(#bl1)">
<path d="M270.9,240.9 L293.7,241.53 Q304.9,242.58 304.9,245.1 Q304.9,247.62 293.7,248.67 L270.9,249.3 Z" fill="#5a78d0" opacity="0.8"/>
<path d="M270.9,241.66 L292.86,242.17 Q303.5,243.03 303.5,245.1 Q303.5,247.17 292.86,248.03 L270.9,248.54 Z" fill="#2244b0" opacity="0.95"/>
<path d="M270.9,243 L291.68,243.31 Q301.54,243.84 301.54,245.1 Q301.54,246.36 291.68,246.88 L270.9,247.2 Z" fill="#2a7ad8" opacity="1"/>
<path d="M270.9,243.59 L290.68,243.81 Q299.86,244.19 299.86,245.1 Q299.86,246.01 290.68,246.39 L270.9,246.61 Z" fill="#40b8b0" opacity="1"/>
<path d="M270.9,244.09 L289.67,244.24 Q298.18,244.5 298.18,245.1 Q298.18,245.7 289.67,245.96 L270.9,246.11 Z" fill="#9ad040" opacity="1"/>
<path d="M270.9,244.51 L288.66,244.6 Q296.5,244.75 296.5,245.1 Q296.5,245.45 288.66,245.6 L270.9,245.69 Z" fill="#f0d020" opacity="1"/>
</g>
<g filter="url(#bl1)">
<path d="M270.9,269.2 L290.5,269.34 Q292.9,269.56 292.9,270.1 Q292.9,270.64 290.5,270.87 L270.9,271 Z" fill="#7a94dc" opacity="0.4"/>
</g>
</g>
<path d="M273.9,275H276.9M275,272.46H276.9M275,270.97H276.9M275,269.91H276.9M275,269.09H276.9M275,268.43H276.9M275,267.86H276.9M275,267.37H276.9M275,266.94H276.9M273.9,266.55H276.9M275,264.01H276.9M275,262.52H276.9M275,261.46H276.9M275,260.64H276.9M275,259.98H276.9M275,259.41H276.9M275,258.92H276.9M275,258.49H276.9M273.9,258.1H276.9M275,255.56H276.9M275,254.07H276.9M275,253.01H276.9M275,252.19H276.9M275,251.53H276.9M275,250.96H276.9M275,250.47H276.9M275,250.04H276.9M273.9,249.65H276.9M275,247.11H276.9M275,245.62H276.9M275,244.56H276.9M275,243.74H276.9M275,243.08H276.9M275,242.51H276.9M275,242.02H276.9M275,241.59H276.9M273.9,241.2H276.9" stroke="#000" stroke-width="0.85" fill="none"/>
<path d="M279.1,277.2V280.2M281.73,277.2V279.1M283.26,277.2V279.1M284.35,277.2V279.1M285.2,277.2V279.1M285.89,277.2V279.1M286.47,277.2V279.1M286.98,277.2V279.1M287.42,277.2V279.1M287.82,277.2V280.2M290.45,277.2V279.1M291.99,277.2V279.1M293.08,277.2V279.1M293.92,277.2V279.1M294.61,277.2V279.1M295.2,277.2V279.1M295.7,277.2V279.1M296.15,277.2V279.1M296.55,277.2V280.2M299.18,277.2V279.1M300.71,277.2V279.1M301.8,277.2V279.1M302.65,277.2V279.1M303.34,277.2V279.1M303.92,277.2V279.1M304.43,277.2V279.1M304.87,277.2V279.1M305.27,277.2V280.2M307.9,277.2V279.1M309.44,277.2V279.1M310.53,277.2V279.1M311.37,277.2V279.1M312.06,277.2V279.1M312.65,277.2V279.1M313.15,277.2V279.1M313.6,277.2V279.1M314,277.2V280.2" stroke="#000" stroke-width="0.85" fill="none"/>
<rect x="276.9" y="238.4" width="39.9" height="38.8" fill="none" stroke="#111" stroke-width="1.2"/>
<line x1="276.9" y1="256.1" x2="316.8" y2="256.1" stroke="#a857a8" stroke-width="1"/>
<line x1="291.3" y1="238.4" x2="291.3" y2="256.1" stroke="#a857a8" stroke-width="1"/>
<text x="279" y="264.3" font-size="7.8" fill="#c41538" textLength="8.3" lengthAdjust="spacingAndGlyphs" stroke="#c41538" stroke-width="0.2">79</text>
<text x="314.3" y="264.3" font-size="7.8" text-anchor="end" fill="#c41538" textLength="7.8" lengthAdjust="spacingAndGlyphs" stroke="#c41538" stroke-width="0.2">17</text>
<text x="345.6" y="232.7" font-size="8.2" text-anchor="middle" textLength="30" lengthAdjust="spacingAndGlyphs" stroke="#231f20" stroke-width="0.12">K-/-;Q/+</text>
<clipPath id="cp4"><rect x="326.7" y="238.7" width="38.1" height="37.6"/></clipPath><g clip-path="url(#cp4)">
<path d="M340.93,260.67h0.7v0.7h-0.7zM333.13,274.19h0.7v0.7h-0.7zM348.08,269.76h0.7v0.7h-0.7zM347.18,263.69h0.7v0.7h-0.7zM353.66,267.51h0.7v0.7h-0.7zM355.46,269.2h0.7v0.7h-0.7zM357.57,264.8h0.7v0.7h-0.7zM332.73,259.07h0.7v0.7h-0.7zM353.35,259.42h0.7v0.7h-0.7zM350.86,268.39h0.7v0.7h-0.7zM329.26,271.63h0.7v0.7h-0.7zM328.3,273.26h0.7v0.7h-0.7zM357.63,260.37h0.7v0.7h-0.7zM353.46,270.6h0.7v0.7h-0.7zM331.64,269.37h0.7v0.7h-0.7zM331.59,274.18h0.7v0.7h-0.7zM352.11,275.5h0.7v0.7h-0.7zM329.04,262.39h0.7v0.7h-0.7zM349.6,268.14h0.7v0.7h-0.7zM333.71,273.68h0.7v0.7h-0.7zM357.83,262.07h0.7v0.7h-0.7zM332.4,269.32h0.7v0.7h-0.7zM341.88,269.23h0.7v0.7h-0.7zM345.01,263.92h0.7v0.7h-0.7zM327.89,258.77h0.7v0.7h-0.7zM343.74,270.52h0.7v0.7h-0.7zM342.55,270.84h0.7v0.7h-0.7zM346.69,273.53h0.7v0.7h-0.7zM350.88,262.47h0.7v0.7h-0.7zM332.14,257.4h0.7v0.7h-0.7zM328.54,273.18h0.7v0.7h-0.7zM358.85,270.98h0.7v0.7h-0.7zM331.07,269.18h0.7v0.7h-0.7zM331.73,273.7h0.7v0.7h-0.7zM350.89,270.94h0.7v0.7h-0.7zM349.21,264.38h0.7v0.7h-0.7zM357.9,275.14h0.7v0.7h-0.7zM335.88,264.76h0.7v0.7h-0.7zM353.72,269.56h0.7v0.7h-0.7zM342.01,265.01h0.7v0.7h-0.7zM362.22,261.56h0.7v0.7h-0.7zM334.78,269.69h0.7v0.7h-0.7zM337.15,273.87h0.7v0.7h-0.7zM338.92,274.41h0.7v0.7h-0.7zM340.89,273.63h0.7v0.7h-0.7zM354.37,270.59h0.7v0.7h-0.7zM334.88,259.35h0.7v0.7h-0.7zM328.23,259.68h0.7v0.7h-0.7zM351.3,257.37h0.7v0.7h-0.7zM335.71,267.33h0.7v0.7h-0.7zM332.73,262.62h0.7v0.7h-0.7zM335.39,269.49h0.7v0.7h-0.7zM331.4,275.85h0.7v0.7h-0.7zM348.83,270.22h0.7v0.7h-0.7zM347.16,265.96h0.7v0.7h-0.7zM362.34,273.8h0.7v0.7h-0.7zM356.94,256.69h0.7v0.7h-0.7zM348.5,274.75h0.7v0.7h-0.7zM350.27,266.26h0.7v0.7h-0.7zM350.68,259.6h0.7v0.7h-0.7z" fill="#7088d0" opacity="0.22"/>
<path d="M356.33,244.38h0.7v0.7h-0.7zM350.5,246.56h0.7v0.7h-0.7zM357.88,251.54h0.7v0.7h-0.7zM360.37,245.06h0.7v0.7h-0.7zM352.85,244.43h0.7v0.7h-0.7zM349.6,249.66h0.7v0.7h-0.7zM346.52,246.29h0.7v0.7h-0.7zM356.5,250.09h0.7v0.7h-0.7zM349.63,250.58h0.7v0.7h-0.7zM359.05,244.17h0.7v0.7h-0.7zM358.99,251.78h0.7v0.7h-0.7zM351.54,245.81h0.7v0.7h-0.7zM361.42,247.8h0.7v0.7h-0.7zM347.58,245.16h0.7v0.7h-0.7zM359.66,250.74h0.7v0.7h-0.7zM359.01,252.13h0.7v0.7h-0.7zM354.68,254.8h0.7v0.7h-0.7zM352.16,250.17h0.7v0.7h-0.7zM359.37,250.9h0.7v0.7h-0.7zM359.89,250.45h0.7v0.7h-0.7zM357.37,244.6h0.7v0.7h-0.7zM349.75,247.28h0.7v0.7h-0.7zM347.38,246.66h0.7v0.7h-0.7zM347.72,247.16h0.7v0.7h-0.7zM356.27,248.11h0.7v0.7h-0.7zM352.02,246.4h0.7v0.7h-0.7zM350.37,254.4h0.7v0.7h-0.7zM356.47,250.8h0.7v0.7h-0.7zM348.84,252.12h0.7v0.7h-0.7zM348.71,248.27h0.7v0.7h-0.7zM361.93,251.14h0.7v0.7h-0.7zM355.01,251.63h0.7v0.7h-0.7zM359.59,252.64h0.7v0.7h-0.7zM349.76,244.45h0.7v0.7h-0.7zM351.15,247.05h0.7v0.7h-0.7zM349.48,254.47h0.7v0.7h-0.7zM360.12,247.56h0.7v0.7h-0.7zM356.59,248.45h0.7v0.7h-0.7zM360.73,249.15h0.7v0.7h-0.7zM350.34,246.81h0.7v0.7h-0.7z" fill="#6a84d0" opacity="0.4"/>
<g filter="url(#bl1)">
<path d="M320.1,245 L344.08,245.63 Q355.1,246.68 355.1,249.2 Q355.1,251.72 344.08,252.77 L320.1,253.4 Z" fill="#8098dc" opacity="0.55"/>
<path d="M320.1,245.76 L343.18,246.27 Q353.65,247.13 353.65,249.2 Q353.65,251.27 343.18,252.13 L320.1,252.64 Z" fill="#2a4cb8" opacity="0.85"/>
<path d="M320.1,246.43 L342.28,246.84 Q352.2,247.54 352.2,249.2 Q352.2,250.86 342.28,251.56 L320.1,251.97 Z" fill="#3098d8" opacity="1"/>
<path d="M320.1,247.1 L341.56,247.41 Q351.04,247.94 351.04,249.2 Q351.04,250.46 341.56,250.98 L320.1,251.3 Z" fill="#48c0a0" opacity="1"/>
<path d="M320.1,247.77 L340.84,247.99 Q349.88,248.34 349.88,249.2 Q349.88,250.06 340.84,250.41 L320.1,250.63 Z" fill="#a8d848" opacity="1"/>
<path d="M320.1,248.36 L339.76,248.49 Q348.14,248.7 348.14,249.2 Q348.14,249.7 339.76,249.91 L320.1,250.04 Z" fill="#f0d820" opacity="1"/>
</g>
</g>
<path d="M323.1,274.7H326.1M324.2,272.16H326.1M324.2,270.67H326.1M324.2,269.61H326.1M324.2,268.79H326.1M324.2,268.13H326.1M324.2,267.56H326.1M324.2,267.07H326.1M324.2,266.64H326.1M323.1,266.25H326.1M324.2,263.71H326.1M324.2,262.22H326.1M324.2,261.16H326.1M324.2,260.34H326.1M324.2,259.68H326.1M324.2,259.11H326.1M324.2,258.62H326.1M324.2,258.19H326.1M323.1,257.8H326.1M324.2,255.26H326.1M324.2,253.77H326.1M324.2,252.71H326.1M324.2,251.89H326.1M324.2,251.23H326.1M324.2,250.66H326.1M324.2,250.17H326.1M324.2,249.74H326.1M323.1,249.35H326.1M324.2,246.81H326.1M324.2,245.32H326.1M324.2,244.26H326.1M324.2,243.44H326.1M324.2,242.78H326.1M324.2,242.21H326.1M324.2,241.72H326.1M324.2,241.29H326.1M323.1,240.9H326.1" stroke="#000" stroke-width="0.85" fill="none"/>
<path d="M328.3,276.9V279.9M330.88,276.9V278.8M332.39,276.9V278.8M333.46,276.9V278.8M334.29,276.9V278.8M334.97,276.9V278.8M335.55,276.9V278.8M336.04,276.9V278.8M336.48,276.9V278.8M336.88,276.9V279.9M339.46,276.9V278.8M340.97,276.9V278.8M342.04,276.9V278.8M342.87,276.9V278.8M343.55,276.9V278.8M344.12,276.9V278.8M344.62,276.9V278.8M345.06,276.9V278.8M345.45,276.9V279.9M348.03,276.9V278.8M349.54,276.9V278.8M350.61,276.9V278.8M351.44,276.9V278.8M352.12,276.9V278.8M352.7,276.9V278.8M353.19,276.9V278.8M353.63,276.9V278.8M354.02,276.9V279.9M356.61,276.9V278.8M358.12,276.9V278.8M359.19,276.9V278.8M360.02,276.9V278.8M360.7,276.9V278.8M361.27,276.9V278.8M361.77,276.9V278.8M362.21,276.9V278.8M362.6,276.9V279.9" stroke="#000" stroke-width="0.85" fill="none"/>
<rect x="326.1" y="238.1" width="39.3" height="38.8" fill="none" stroke="#111" stroke-width="1.2"/>
<line x1="326.1" y1="255.8" x2="365.4" y2="255.8" stroke="#a857a8" stroke-width="1"/>
<line x1="340.5" y1="238.1" x2="340.5" y2="255.8" stroke="#a857a8" stroke-width="1"/>
<text x="328.2" y="264.3" font-size="7.8" fill="#c41538" textLength="8.3" lengthAdjust="spacingAndGlyphs" stroke="#c41538" stroke-width="0.2">64</text>
<text x="362.9" y="264.3" font-size="7.8" text-anchor="end" fill="#c41538" textLength="7.8" lengthAdjust="spacingAndGlyphs" stroke="#c41538" stroke-width="0.2">34</text>
<text x="174.2" y="244.5" font-size="5.7" text-anchor="end" fill="#3a3a3a" stroke="none">10<tspan font-size="4.2" dy="-2.4">5</tspan></text>
<text x="174.2" y="253.2" font-size="5.7" text-anchor="end" fill="#3a3a3a" stroke="none">10<tspan font-size="4.2" dy="-2.4">4</tspan></text>
<text x="174.2" y="262.5" font-size="5.7" text-anchor="end" fill="#3a3a3a" stroke="none">10<tspan font-size="4.2" dy="-2.4">3</tspan></text>
<text x="174.2" y="271.5" font-size="5.7" text-anchor="end" fill="#3a3a3a" stroke="none">10<tspan font-size="4.2" dy="-2.4">2</tspan></text>
<text x="174.2" y="279.7" font-size="5.7" text-anchor="end" fill="#3a3a3a" stroke="none">0</text>
<text x="181.3" y="288.6" font-size="5.4" fill="#3a3a3a" stroke="none">0</text>
<text x="184" y="288.6" font-size="5.4" fill="#3a3a3a" stroke="none">10<tspan font-size="3.7" dy="-2.2">2</tspan></text>
<text x="194.1" y="288.6" font-size="5.4" fill="#3a3a3a" stroke="none">10<tspan font-size="3.7" dy="-2.2">3</tspan></text>
<text x="203.9" y="288.6" font-size="5.4" fill="#3a3a3a" stroke="none">10<tspan font-size="3.7" dy="-2.2">4</tspan></text>
<text x="212.7" y="288.6" font-size="5.4" fill="#3a3a3a" stroke="none">10<tspan font-size="3.7" dy="-2.2">5</tspan></text>
<text x="161.4" y="258.8" font-size="7" text-anchor="middle" transform="rotate(-90 161.4 258.8)" textLength="29.3" lengthAdjust="spacingAndGlyphs" stroke="#231f20" stroke-width="0.12">Thy1.2-APC</text>
<text x="181.7" y="299.8" font-size="7.8" textLength="34.6" lengthAdjust="spacingAndGlyphs" stroke="#231f20" stroke-width="0.12">Mac1-PE-Cy7</text>
<line x1="219.2" y1="297.4" x2="357" y2="297.4" stroke="#111" stroke-width="1"/>
<path d="M355.2,294.8 L361.4,297.4 L355.2,300 Z" fill="#111"/>
<line x1="417.7" y1="220.2" x2="417.7" y2="306.6" stroke="#111" stroke-width="1.2"/>
<line x1="414.8" y1="306" x2="417.7" y2="306" stroke="#111" stroke-width="1"/>
<text x="409.8" y="309.8" font-size="7.8" text-anchor="end" fill="#231f20">10<tspan font-size="5.2" dy="-3.2">5</tspan></text>
<line x1="414.8" y1="289.85" x2="417.7" y2="289.85" stroke="#111" stroke-width="1"/>
<text x="409.8" y="293.65" font-size="7.8" text-anchor="end" fill="#231f20">10<tspan font-size="5.2" dy="-3.2">6</tspan></text>
<line x1="414.8" y1="273.7" x2="417.7" y2="273.7" stroke="#111" stroke-width="1"/>
<text x="409.8" y="277.5" font-size="7.8" text-anchor="end" fill="#231f20">10<tspan font-size="5.2" dy="-3.2">7</tspan></text>
<line x1="414.8" y1="257.55" x2="417.7" y2="257.55" stroke="#111" stroke-width="1"/>
<text x="409.8" y="261.35" font-size="7.8" text-anchor="end" fill="#231f20">10<tspan font-size="5.2" dy="-3.2">8</tspan></text>
<line x1="414.8" y1="241.4" x2="417.7" y2="241.4" stroke="#111" stroke-width="1"/>
<text x="409.8" y="245.2" font-size="7.8" text-anchor="end" fill="#231f20">10<tspan font-size="5.2" dy="-3.2">9</tspan></text>
<line x1="414.8" y1="225.25" x2="417.7" y2="225.25" stroke="#111" stroke-width="1"/>
<text x="409.8" y="229.05" font-size="7.8" text-anchor="end" fill="#231f20">10<tspan font-size="5.2" dy="-3.2">10</tspan></text>
<line x1="417.7" y1="306" x2="510.6" y2="306" stroke="#111" stroke-width="1.2"/>
<line x1="428" y1="306" x2="428" y2="309.3" stroke="#111" stroke-width="1"/>
<line x1="451.6" y1="306" x2="451.6" y2="309.3" stroke="#111" stroke-width="1"/>
<line x1="475.3" y1="306" x2="475.3" y2="309.3" stroke="#111" stroke-width="1"/>
<line x1="498.9" y1="306" x2="498.9" y2="309.3" stroke="#111" stroke-width="1"/>
<text x="388.9" y="307.1" font-size="9.4" transform="rotate(-90 388.9 307.1)" textLength="89.5" lengthAdjust="spacingAndGlyphs">Thy1.2<tspan font-size="6" dy="-3">+</tspan><tspan dy="3"> Mac1</tspan><tspan font-size="6" dy="-3">+</tspan><tspan dy="3"> cell # in Th</tspan></text>
<rect x="419" y="293" width="18.1" height="13" fill="#a8052a"/>
<rect x="443.1" y="281.7" width="17.4" height="24.3" fill="#a8052a"/>
<rect x="465.9" y="264.1" width="18.8" height="41.9" fill="#a8052a"/>
<rect x="490" y="248.7" width="18" height="57.3" fill="#a8052a"/>
<path d="M450.8,237.7 V226.4 H498.9 V228.6" stroke="#222" stroke-width="1" fill="none"/>
<line x1="423.9" y1="237.7" x2="474.8" y2="237.7" stroke="#222" stroke-width="1"/>
<path d="M438.1,260.3 V247 H475.3 V249.7" stroke="#222" stroke-width="1" fill="none"/>
<line x1="424.1" y1="260.3" x2="453.9" y2="260.3" stroke="#222" stroke-width="1"/>
<circle cx="471.2" cy="222.9" r="1" fill="#222"/>
<circle cx="474.6" cy="222.9" r="1" fill="#222"/>
<circle cx="478" cy="222.9" r="1" fill="#222"/>
<circle cx="453" cy="242.9" r="1" fill="#222"/>
<circle cx="456.4" cy="242.9" r="1" fill="#222"/>
<circle cx="459.8" cy="242.9" r="1" fill="#222"/>
<line x1="428" y1="292" x2="428" y2="288.7" stroke="#222" stroke-width="1"/>
<line x1="424" y1="288.7" x2="432" y2="288.7" stroke="#222" stroke-width="1.1"/>
<line x1="451.6" y1="281.7" x2="451.6" y2="272.3" stroke="#222" stroke-width="1"/>
<line x1="447.6" y1="272.3" x2="455.6" y2="272.3" stroke="#222" stroke-width="1.1"/>
<line x1="475.3" y1="264" x2="475.3" y2="255.5" stroke="#222" stroke-width="1"/>
<line x1="471.3" y1="255.5" x2="479.3" y2="255.5" stroke="#222" stroke-width="1.1"/>
<line x1="498.9" y1="248.7" x2="498.9" y2="241.5" stroke="#222" stroke-width="1"/>
<line x1="494.9" y1="241.5" x2="502.9" y2="241.5" stroke="#222" stroke-width="1.1"/>
<circle cx="432.3" cy="284.3" r="1.6" fill="#0d1a16"/>
<circle cx="428" cy="286.7" r="1.6" fill="#0d1a16"/>
<circle cx="421.5" cy="294.8" r="1.6" fill="#0d1a16"/>
<circle cx="424.5" cy="293" r="1.6" fill="#0d1a16"/>
<circle cx="427.5" cy="292.5" r="1.6" fill="#0d1a16"/>
<circle cx="430.5" cy="293.5" r="1.6" fill="#0d1a16"/>
<circle cx="433.5" cy="293" r="1.6" fill="#0d1a16"/>
<circle cx="423.6" cy="297.5" r="1.6" fill="#0d1a16"/>
<circle cx="426.6" cy="296.5" r="1.6" fill="#0d1a16"/>
<circle cx="429.6" cy="297" r="1.6" fill="#0d1a16"/>
<circle cx="432.6" cy="297.8" r="1.6" fill="#0d1a16"/>
<circle cx="428" cy="299.5" r="1.6" fill="#0d1a16"/>
<circle cx="435" cy="296" r="1.6" fill="#0d1a16"/>
<circle cx="420.5" cy="297.8" r="1.6" fill="#0d1a16"/>
<circle cx="451.5" cy="264.6" r="1.6" fill="#0d1a16"/>
<circle cx="456" cy="283.3" r="1.6" fill="#0d1a16"/>
<circle cx="446.3" cy="287.3" r="1.6" fill="#0d1a16"/>
<circle cx="451.5" cy="286.9" r="1.6" fill="#0d1a16"/>
<circle cx="447.3" cy="290" r="1.6" fill="#0d1a16"/>
<circle cx="450" cy="289.5" r="1.6" fill="#0d1a16"/>
<circle cx="452.5" cy="291.8" r="1.6" fill="#0d1a16"/>
<circle cx="455" cy="290.8" r="1.6" fill="#0d1a16"/>
<circle cx="458" cy="289.3" r="1.6" fill="#0d1a16"/>
<circle cx="447.3" cy="296.6" r="1.6" fill="#0d1a16"/>
<circle cx="451.5" cy="297.3" r="1.6" fill="#0d1a16"/>
<circle cx="456" cy="299.6" r="1.6" fill="#0d1a16"/>
<circle cx="451.5" cy="302.7" r="1.6" fill="#0d1a16"/>
<circle cx="475.5" cy="256" r="1.6" fill="#0d1a16"/>
<circle cx="479.8" cy="256" r="1.6" fill="#0d1a16"/>
<circle cx="472" cy="259.8" r="1.6" fill="#0d1a16"/>
<circle cx="474.1" cy="262" r="1.6" fill="#0d1a16"/>
<circle cx="470.6" cy="262.4" r="1.6" fill="#0d1a16"/>
<circle cx="477.7" cy="261.5" r="1.6" fill="#0d1a16"/>
<circle cx="481.9" cy="262.4" r="1.6" fill="#0d1a16"/>
<circle cx="481.2" cy="258.5" r="1.6" fill="#0d1a16"/>
<circle cx="470.6" cy="266.3" r="1.6" fill="#0d1a16"/>
<circle cx="475.3" cy="267" r="1.6" fill="#0d1a16"/>
<circle cx="479.8" cy="266.3" r="1.6" fill="#0d1a16"/>
<circle cx="473" cy="271.5" r="1.6" fill="#0d1a16"/>
<circle cx="477.7" cy="271.5" r="1.6" fill="#0d1a16"/>
<circle cx="470.6" cy="275.8" r="1.6" fill="#0d1a16"/>
<circle cx="475.3" cy="276.5" r="1.6" fill="#0d1a16"/>
<circle cx="479.8" cy="275.8" r="1.6" fill="#0d1a16"/>
<circle cx="475.3" cy="298" r="1.6" fill="#0d1a16"/>
<circle cx="494.6" cy="245.4" r="1.6" fill="#0d1a16"/>
<circle cx="498.2" cy="241.9" r="1.6" fill="#0d1a16"/>
<circle cx="501" cy="241.5" r="1.6" fill="#0d1a16"/>
<circle cx="503.1" cy="242.5" r="1.6" fill="#0d1a16"/>
<circle cx="499.3" cy="246.8" r="1.6" fill="#0d1a16"/>
<circle cx="502.4" cy="244.5" r="1.6" fill="#0d1a16"/>
<circle cx="494.6" cy="251.5" r="1.6" fill="#0d1a16"/>
<circle cx="499" cy="252" r="1.6" fill="#0d1a16"/>
<circle cx="503.5" cy="251.5" r="1.6" fill="#0d1a16"/>
<circle cx="492" cy="255" r="1.6" fill="#0d1a16"/>
<circle cx="496" cy="256.5" r="1.6" fill="#0d1a16"/>
<circle cx="500.5" cy="255.5" r="1.6" fill="#0d1a16"/>
<circle cx="504" cy="255" r="1.6" fill="#0d1a16"/>
<circle cx="494.6" cy="260.5" r="1.6" fill="#0d1a16"/>
<circle cx="499" cy="259" r="1.6" fill="#0d1a16"/>
<circle cx="503.1" cy="261.7" r="1.6" fill="#0d1a16"/>
<circle cx="499" cy="264.7" r="1.6" fill="#0d1a16"/>
<text x="430.6" y="318" font-size="8" text-anchor="end" transform="rotate(-45 430.6 318)" textLength="15.5" lengthAdjust="spacingAndGlyphs" stroke="#231f20" stroke-width="0.12">Con</text>
<text x="454.2" y="318" font-size="8" text-anchor="end" transform="rotate(-45 454.2 318)" textLength="12.5" lengthAdjust="spacingAndGlyphs" stroke="#231f20" stroke-width="0.12">K-/-</text>
<text x="477.9" y="318" font-size="8" text-anchor="end" transform="rotate(-45 477.9 318)" textLength="13.5" lengthAdjust="spacingAndGlyphs" stroke="#231f20" stroke-width="0.12">Q/+</text>
<text x="501.5" y="318" font-size="8" text-anchor="end" transform="rotate(-45 501.5 318)" textLength="31" lengthAdjust="spacingAndGlyphs" stroke="#231f20" stroke-width="0.12">K-/-;Q/+</text>
<text x="86.95" y="381.8" font-size="10" text-anchor="middle" textLength="13.9" lengthAdjust="spacingAndGlyphs" stroke="#231f20" stroke-width="0.12">DN</text>
<text x="151.1" y="381.6" font-size="10" text-anchor="middle" textLength="18.2" lengthAdjust="spacingAndGlyphs" stroke="#231f20" stroke-width="0.12">DN1</text>
<text x="221" y="381.6" font-size="10" text-anchor="middle" textLength="18.6" lengthAdjust="spacingAndGlyphs" stroke="#231f20" stroke-width="0.12">DN2</text>
<text x="14.9" y="407" font-size="8.6" textLength="15.3" lengthAdjust="spacingAndGlyphs" stroke="#231f20" stroke-width="0.12">Con</text>
<text x="15.6" y="447" font-size="8.6" textLength="13.3" lengthAdjust="spacingAndGlyphs" stroke="#231f20" stroke-width="0.12">K-/-</text>
<text x="15" y="490.2" font-size="8.6" textLength="15.1" lengthAdjust="spacingAndGlyphs" stroke="#231f20" stroke-width="0.12">Q/+</text>
<text x="7" y="533.5" font-size="8.6" textLength="30.7" lengthAdjust="spacingAndGlyphs" stroke="#231f20" stroke-width="0.12">K-/-;Q/+</text>
<line x1="46.5" y1="394.6" x2="46.5" y2="475.4" stroke="#111" stroke-width="0.9"/>
<path d="M44.5,396.2 L46.5,391.6 L48.5,396.2 Z" fill="#111"/>
<line x1="118" y1="393.8" x2="118" y2="524.6" stroke="#111" stroke-width="0.9"/>
<path d="M116,395.4 L118,390.8 L120,395.4 Z" fill="#111"/>
<line x1="185.7" y1="393.8" x2="185.7" y2="524.6" stroke="#111" stroke-width="0.9"/>
<path d="M183.7,395.4 L185.7,390.8 L187.7,395.4 Z" fill="#111"/>
<text x="49.1" y="540.3" font-size="9.4" transform="rotate(-90 49.1 540.3)" textLength="61.4" lengthAdjust="spacingAndGlyphs" stroke="#231f20" stroke-width="0.12">CD44-PerCP-Cy5.5</text>
<text x="121" y="539.9" font-size="10" transform="rotate(-90 121 539.9)" textLength="12" lengthAdjust="spacingAndGlyphs" stroke="#231f20" stroke-width="0.12">FSC</text>
<text x="188.7" y="539.9" font-size="10" transform="rotate(-90 188.7 539.9)" textLength="12" lengthAdjust="spacingAndGlyphs" stroke="#231f20" stroke-width="0.12">FSC</text>
<text x="67.9" y="586.2" font-size="8.4" textLength="39.3" lengthAdjust="spacingAndGlyphs" stroke="#231f20" stroke-width="0.12">CD25-APC</text>
<text x="126.6" y="586.3" font-size="8.6" textLength="50.2" lengthAdjust="spacingAndGlyphs" stroke="#231f20" stroke-width="0.12">cKit-APCe780</text>
<text x="194.1" y="586.3" font-size="8.6" textLength="51" lengthAdjust="spacingAndGlyphs" stroke="#231f20" stroke-width="0.12">cKit-APCe780</text>
<text x="71.2" y="574.3" font-size="4.8" fill="#444" stroke="none">0</text>
<text x="77.5" y="574.3" font-size="4.8" fill="#444">10<tspan font-size="3.3" dy="-1.8">2</tspan></text>
<text x="86.7" y="574.3" font-size="4.8" fill="#444">10<tspan font-size="3.3" dy="-1.8">3</tspan></text>
<text x="95.4" y="574.3" font-size="4.8" fill="#444">10<tspan font-size="3.3" dy="-1.8">4</tspan></text>
<text x="103.4" y="574.3" font-size="4.8" fill="#444">10<tspan font-size="3.3" dy="-1.8">5</tspan></text>
<text x="136" y="573.6" font-size="4.8" fill="#444" stroke="none">0</text>
<text x="142.3" y="573.6" font-size="4.8" fill="#444">10<tspan font-size="3.3" dy="-1.8">2</tspan></text>
<text x="151.5" y="573.6" font-size="4.8" fill="#444">10<tspan font-size="3.3" dy="-1.8">3</tspan></text>
<text x="160.2" y="573.6" font-size="4.8" fill="#444">10<tspan font-size="3.3" dy="-1.8">4</tspan></text>
<text x="168.2" y="573.6" font-size="4.8" fill="#444">10<tspan font-size="3.3" dy="-1.8">5</tspan></text>
<text x="204.9" y="573.6" font-size="4.8" fill="#444" stroke="none">0</text>
<text x="211.2" y="573.6" font-size="4.8" fill="#444">10<tspan font-size="3.3" dy="-1.8">2</tspan></text>
<text x="220.4" y="573.6" font-size="4.8" fill="#444">10<tspan font-size="3.3" dy="-1.8">3</tspan></text>
<text x="229.1" y="573.6" font-size="4.8" fill="#444">10<tspan font-size="3.3" dy="-1.8">4</tspan></text>
<text x="237.1" y="573.6" font-size="4.8" fill="#444">10<tspan font-size="3.3" dy="-1.8">5</tspan></text>
<text x="63.8" y="529.8" font-size="4.3" fill="#555" text-anchor="end" stroke="none">10<tspan font-size="3.3" dy="-1.8">5</tspan></text>
<text x="63.8" y="537.2" font-size="4.3" fill="#555" text-anchor="end" stroke="none">10<tspan font-size="3.3" dy="-1.8">4</tspan></text>
<text x="63.8" y="544.8" font-size="4.3" fill="#555" text-anchor="end" stroke="none">10<tspan font-size="3.3" dy="-1.8">3</tspan></text>
<text x="63.8" y="552.4" font-size="4.3" fill="#555" text-anchor="end" stroke="none">10<tspan font-size="3.3" dy="-1.8">2</tspan></text>
<text x="60.2" y="559.6" font-size="4.4" fill="#555" text-anchor="middle" stroke="none">0</text>
<clipPath id="cp5"><rect x="68" y="387.5" width="38.2" height="38.1"/></clipPath><g clip-path="url(#cp5)">
<g filter="url(#spk)"><ellipse cx="86" cy="418" rx="22" ry="10" fill="#8aa0e0" opacity="0.35" transform="rotate(0 86 418)"/></g>
<g filter="url(#spk)"><ellipse cx="69.5" cy="416" rx="3.5" ry="10" fill="#5a78d0" opacity="0.8" transform="rotate(0 69.5 416)"/></g>
<g filter="url(#spk)"><ellipse cx="96.5" cy="413.5" rx="4.2" ry="12.5" fill="#4a68c8" opacity="0.9" transform="rotate(0 96.5 413.5)"/></g>
<g filter="url(#spk)"><ellipse cx="71.5" cy="401" rx="6.5" ry="3" fill="#4a68c8" opacity="0.9" transform="rotate(0 71.5 401)"/></g>
<g filter="url(#bl1)" opacity="1">
<ellipse cx="69.8" cy="401.2" rx="3.6" ry="1.9" fill="#38b0e0"/>
<ellipse cx="69.8" cy="401.2" rx="2.7" ry="1.4" fill="#50c878"/>
<ellipse cx="69.8" cy="401.2" rx="1.9" ry="1" fill="#c0dc38"/>
<ellipse cx="69.8" cy="401.2" rx="1.1" ry="0.6" fill="#f8c020"/>
</g>
<g filter="url(#bl1)" opacity="1">
<ellipse cx="69.3" cy="424.3" rx="2.6" ry="2" fill="#50c878"/>
<ellipse cx="69.3" cy="424.3" rx="1.8" ry="1.4" fill="#c0dc38"/>
<ellipse cx="69.3" cy="424.3" rx="1" ry="0.8" fill="#f8c020"/>
</g>
<g filter="url(#bl1)" opacity="1">
<ellipse cx="96.6" cy="423.2" rx="3.2" ry="3" fill="#38b0e0"/>
<ellipse cx="96.6" cy="423.2" rx="2.4" ry="2.2" fill="#50c878"/>
<ellipse cx="96.6" cy="423.2" rx="1.6" ry="1.5" fill="#c0dc38"/>
<ellipse cx="96.6" cy="423.2" rx="0.9" ry="0.8" fill="#f8c020"/>
</g>
</g>
<path d="M64.4,424H67.4M65.5,421.42H67.4M65.5,419.91H67.4M65.5,418.84H67.4M65.5,418.01H67.4M65.5,417.33H67.4M65.5,416.75H67.4M65.5,416.26H67.4M65.5,415.82H67.4M64.4,415.43H67.4M65.5,412.84H67.4M65.5,411.33H67.4M65.5,410.26H67.4M65.5,409.43H67.4M65.5,408.75H67.4M65.5,408.18H67.4M65.5,407.68H67.4M65.5,407.24H67.4M64.4,406.85H67.4M65.5,404.27H67.4M65.5,402.76H67.4M65.5,401.69H67.4M65.5,400.86H67.4M65.5,400.18H67.4M65.5,399.6H67.4M65.5,399.11H67.4M65.5,398.67H67.4M64.4,398.27H67.4M65.5,395.69H67.4M65.5,394.18H67.4M65.5,393.11H67.4M65.5,392.28H67.4M65.5,391.6H67.4M65.5,391.03H67.4M65.5,390.53H67.4M65.5,390.09H67.4M64.4,389.7H67.4" stroke="#000" stroke-width="0.85" fill="none"/>
<path d="M69.6,426.2V429.2M72.19,426.2V428.1M73.7,426.2V428.1M74.78,426.2V428.1M75.61,426.2V428.1M76.29,426.2V428.1M76.87,426.2V428.1M77.37,426.2V428.1M77.8,426.2V428.1M78.2,426.2V429.2M80.79,426.2V428.1M82.3,426.2V428.1M83.38,426.2V428.1M84.21,426.2V428.1M84.89,426.2V428.1M85.47,426.2V428.1M85.97,426.2V428.1M86.4,426.2V428.1M86.8,426.2V429.2M89.39,426.2V428.1M90.9,426.2V428.1M91.98,426.2V428.1M92.81,426.2V428.1M93.49,426.2V428.1M94.07,426.2V428.1M94.57,426.2V428.1M95,426.2V428.1M95.4,426.2V429.2M97.99,426.2V428.1M99.5,426.2V428.1M100.58,426.2V428.1M101.41,426.2V428.1M102.09,426.2V428.1M102.67,426.2V428.1M103.17,426.2V428.1M103.6,426.2V428.1M104,426.2V429.2" stroke="#000" stroke-width="0.85" fill="none"/>
<rect x="67.4" y="386.9" width="39.4" height="39.3" fill="none" stroke="#111" stroke-width="1.2"/>
<line x1="67.4" y1="406.2" x2="106.8" y2="406.2" stroke="#a857a8" stroke-width="1"/>
<line x1="84.6" y1="386.9" x2="84.6" y2="406.2" stroke="#a857a8" stroke-width="1"/>
<text x="68.8" y="395.4" font-size="7.8" fill="#c41538" textLength="8.3" lengthAdjust="spacingAndGlyphs" stroke="#c41538" stroke-width="0.2">13</text>
<text x="104.5" y="395.4" font-size="7.8" text-anchor="end" fill="#c41538" textLength="3.7" lengthAdjust="spacingAndGlyphs" stroke="#c41538" stroke-width="0.2">2</text>
<clipPath id="cp6"><rect x="68" y="433" width="38.2" height="38"/></clipPath><g clip-path="url(#cp6)">
<g filter="url(#spk)"><ellipse cx="86" cy="462" rx="21" ry="10" fill="#9ab0e8" opacity="0.3" transform="rotate(0 86 462)"/></g>
<g filter="url(#spk)"><ellipse cx="74" cy="445.5" rx="9" ry="2.6" fill="#6a84d0" opacity="0.75" transform="rotate(0 74 445.5)"/></g>
<g filter="url(#spk)"><ellipse cx="98.5" cy="460" rx="3.8" ry="12.5" fill="#4a68c8" opacity="0.95" transform="rotate(0 98.5 460)"/></g>
<g filter="url(#bl1)" transform="translate(98.8 466) rotate(0)">
<ellipse cx="0" cy="0" rx="2" ry="3.5" fill="#c8d2f0" opacity="0.55"/>
<ellipse cx="0" cy="0" rx="1.6" ry="2.8" fill="#5a78d0" opacity="0.8"/>
<ellipse cx="0" cy="0" rx="1.24" ry="2.17" fill="#2f55c0" opacity="0.95"/>
</g>
<circle cx="68.3" cy="445.5" r="0.8" fill="#40c040"/>
</g>
<path d="M64.4,469.4H67.4M65.5,466.83H67.4M65.5,465.32H67.4M65.5,464.25H67.4M65.5,463.42H67.4M65.5,462.75H67.4M65.5,462.18H67.4M65.5,461.68H67.4M65.5,461.24H67.4M64.4,460.85H67.4M65.5,458.28H67.4M65.5,456.77H67.4M65.5,455.7H67.4M65.5,454.87H67.4M65.5,454.2H67.4M65.5,453.63H67.4M65.5,453.13H67.4M65.5,452.69H67.4M64.4,452.3H67.4M65.5,449.73H67.4M65.5,448.22H67.4M65.5,447.15H67.4M65.5,446.32H67.4M65.5,445.65H67.4M65.5,445.08H67.4M65.5,444.58H67.4M65.5,444.14H67.4M64.4,443.75H67.4M65.5,441.18H67.4M65.5,439.67H67.4M65.5,438.6H67.4M65.5,437.77H67.4M65.5,437.1H67.4M65.5,436.53H67.4M65.5,436.03H67.4M65.5,435.59H67.4M64.4,435.2H67.4" stroke="#000" stroke-width="0.85" fill="none"/>
<path d="M69.6,471.6V474.6M72.19,471.6V473.5M73.7,471.6V473.5M74.78,471.6V473.5M75.61,471.6V473.5M76.29,471.6V473.5M76.87,471.6V473.5M77.37,471.6V473.5M77.8,471.6V473.5M78.2,471.6V474.6M80.79,471.6V473.5M82.3,471.6V473.5M83.38,471.6V473.5M84.21,471.6V473.5M84.89,471.6V473.5M85.47,471.6V473.5M85.97,471.6V473.5M86.4,471.6V473.5M86.8,471.6V474.6M89.39,471.6V473.5M90.9,471.6V473.5M91.98,471.6V473.5M92.81,471.6V473.5M93.49,471.6V473.5M94.07,471.6V473.5M94.57,471.6V473.5M95,471.6V473.5M95.4,471.6V474.6M97.99,471.6V473.5M99.5,471.6V473.5M100.58,471.6V473.5M101.41,471.6V473.5M102.09,471.6V473.5M102.67,471.6V473.5M103.17,471.6V473.5M103.6,471.6V473.5M104,471.6V474.6" stroke="#000" stroke-width="0.85" fill="none"/>
<rect x="67.4" y="432.4" width="39.4" height="39.2" fill="none" stroke="#111" stroke-width="1.2"/>
<line x1="67.4" y1="451.3" x2="106.8" y2="451.3" stroke="#a857a8" stroke-width="1"/>
<line x1="84.6" y1="432.4" x2="84.6" y2="451.3" stroke="#a857a8" stroke-width="1"/>
<text x="68.8" y="440.9" font-size="7.8" fill="#c41538" textLength="8.3" lengthAdjust="spacingAndGlyphs" stroke="#c41538" stroke-width="0.2">18</text>
<text x="104.5" y="440.9" font-size="7.8" text-anchor="end" fill="#c41538" textLength="3.7" lengthAdjust="spacingAndGlyphs" stroke="#c41538" stroke-width="0.2">2</text>
<clipPath id="cp7"><rect x="68" y="478.4" width="38.2" height="37.9"/></clipPath><g clip-path="url(#cp7)">
<rect x="67.4" y="498" width="34" height="19" fill="#4a66c8" opacity="0.45" filter="url(#bl2)"/>
<g filter="url(#spk)"><ellipse cx="83" cy="507.5" rx="21" ry="11" fill="#4a68c8" opacity="0.9" transform="rotate(0 83 507.5)"/></g>
<g filter="url(#spk)"><ellipse cx="72" cy="490" rx="7" ry="3.5" fill="#4a68c8" opacity="0.9" transform="rotate(0 72 490)"/></g>
<g filter="url(#bl1)" opacity="1">
<ellipse cx="69.6" cy="490.6" rx="3.6" ry="1.9" fill="#50c878"/>
<ellipse cx="69.6" cy="490.6" rx="2.6" ry="1.4" fill="#c0dc38"/>
<ellipse cx="69.6" cy="490.6" rx="1.6" ry="0.9" fill="#f8c020"/>
</g>
<g filter="url(#bl2)" opacity="1">
<ellipse cx="95" cy="506" rx="3.6" ry="10.5" fill="#2f6fd8"/>
<ellipse cx="95" cy="506" rx="2.6" ry="8" fill="#38b0e0"/>
<ellipse cx="95" cy="506" rx="1.8" ry="5.5" fill="#50c878"/>
<ellipse cx="95" cy="506" rx="1.1" ry="3" fill="#c0dc38"/>
</g>
</g>
<path d="M64.4,514.7H67.4M65.5,512.13H67.4M65.5,510.63H67.4M65.5,509.57H67.4M65.5,508.74H67.4M65.5,508.07H67.4M65.5,507.5H67.4M65.5,507H67.4M65.5,506.57H67.4M64.4,506.17H67.4M65.5,503.61H67.4M65.5,502.11H67.4M65.5,501.04H67.4M65.5,500.22H67.4M65.5,499.54H67.4M65.5,498.97H67.4M65.5,498.48H67.4M65.5,498.04H67.4M64.4,497.65H67.4M65.5,495.08H67.4M65.5,493.58H67.4M65.5,492.52H67.4M65.5,491.69H67.4M65.5,491.02H67.4M65.5,490.45H67.4M65.5,489.95H67.4M65.5,489.52H67.4M64.4,489.12H67.4M65.5,486.56H67.4M65.5,485.06H67.4M65.5,483.99H67.4M65.5,483.17H67.4M65.5,482.49H67.4M65.5,481.92H67.4M65.5,481.43H67.4M65.5,480.99H67.4M64.4,480.6H67.4" stroke="#000" stroke-width="0.85" fill="none"/>
<path d="M69.6,516.9V519.9M72.19,516.9V518.8M73.7,516.9V518.8M74.78,516.9V518.8M75.61,516.9V518.8M76.29,516.9V518.8M76.87,516.9V518.8M77.37,516.9V518.8M77.8,516.9V518.8M78.2,516.9V519.9M80.79,516.9V518.8M82.3,516.9V518.8M83.38,516.9V518.8M84.21,516.9V518.8M84.89,516.9V518.8M85.47,516.9V518.8M85.97,516.9V518.8M86.4,516.9V518.8M86.8,516.9V519.9M89.39,516.9V518.8M90.9,516.9V518.8M91.98,516.9V518.8M92.81,516.9V518.8M93.49,516.9V518.8M94.07,516.9V518.8M94.57,516.9V518.8M95,516.9V518.8M95.4,516.9V519.9M97.99,516.9V518.8M99.5,516.9V518.8M100.58,516.9V518.8M101.41,516.9V518.8M102.09,516.9V518.8M102.67,516.9V518.8M103.17,516.9V518.8M103.6,516.9V518.8M104,516.9V519.9" stroke="#000" stroke-width="0.85" fill="none"/>
<rect x="67.4" y="477.8" width="39.4" height="39.1" fill="none" stroke="#111" stroke-width="1.2"/>
<line x1="67.4" y1="496.8" x2="106.8" y2="496.8" stroke="#a857a8" stroke-width="1"/>
<line x1="85.6" y1="477.8" x2="85.6" y2="496.8" stroke="#a857a8" stroke-width="1"/>
<text x="68.8" y="486.3" font-size="7.8" fill="#c41538" textLength="8.3" lengthAdjust="spacingAndGlyphs" stroke="#c41538" stroke-width="0.2">12</text>
<text x="104.5" y="486.3" font-size="7.8" text-anchor="end" fill="#c41538" textLength="3.7" lengthAdjust="spacingAndGlyphs" stroke="#c41538" stroke-width="0.2">4</text>
<clipPath id="cp8"><rect x="68" y="525.5" width="38.2" height="37.9"/></clipPath><g clip-path="url(#cp8)">
<g filter="url(#spk)"><ellipse cx="88" cy="556" rx="18" ry="9" fill="#9ab0e8" opacity="0.4" transform="rotate(0 88 556)"/></g>
<path d="M66.5,544 L78.5,544 Q75,552 75.2,564 L67,564 Z" fill="#2a48b8" opacity="0.92" filter="url(#bl1)"/>
<path d="M70.3,545 L74,545 L72.8,556 L71,556 Z" fill="#3aa0e0" opacity="0.8" filter="url(#bl1)"/>
<path d="M74,536.5 L90,536.5 L90,542.5 L74,542.5 Z" fill="#2a48b8" opacity="0.85" filter="url(#bl1)"/>
<g filter="url(#spk)"><ellipse cx="86" cy="539.5" rx="19" ry="4.6" fill="#3a58c0" opacity="0.9" transform="rotate(0 86 539.5)"/></g>
<g filter="url(#bl1)" opacity="1">
<ellipse cx="95" cy="539.3" rx="8.5" ry="4.2" fill="#2a48b8"/>
<ellipse cx="95" cy="539.3" rx="6.5" ry="3" fill="#2f6fd8"/>
<ellipse cx="95" cy="539.3" rx="4" ry="1.8" fill="#38b0e0"/>
</g>
<g filter="url(#bl1)" opacity="1">
<ellipse cx="72.1" cy="539.2" rx="6.8" ry="7.6" fill="#2a48b8"/>
<ellipse cx="72.1" cy="539.2" rx="5.4" ry="6.2" fill="#2f6fd8"/>
<ellipse cx="72.1" cy="539.2" rx="4.4" ry="5.1" fill="#38b0e0"/>
<ellipse cx="72.1" cy="539.2" rx="3.5" ry="4.1" fill="#50c878"/>
<ellipse cx="72.1" cy="539.2" rx="2.6" ry="3.1" fill="#c0dc38"/>
<ellipse cx="72.1" cy="539.2" rx="1.8" ry="2.1" fill="#f8c020"/>
<ellipse cx="72.1" cy="539.2" rx="1.1" ry="1.3" fill="#f07018"/>
<ellipse cx="72.1" cy="539.2" rx="0.6" ry="0.7" fill="#e01818"/>
</g>
</g>
<path d="M64.4,561.8H67.4M65.5,559.23H67.4M65.5,557.73H67.4M65.5,556.67H67.4M65.5,555.84H67.4M65.5,555.17H67.4M65.5,554.6H67.4M65.5,554.1H67.4M65.5,553.67H67.4M64.4,553.27H67.4M65.5,550.71H67.4M65.5,549.21H67.4M65.5,548.14H67.4M65.5,547.32H67.4M65.5,546.64H67.4M65.5,546.07H67.4M65.5,545.58H67.4M65.5,545.14H67.4M64.4,544.75H67.4M65.5,542.18H67.4M65.5,540.68H67.4M65.5,539.62H67.4M65.5,538.79H67.4M65.5,538.12H67.4M65.5,537.55H67.4M65.5,537.05H67.4M65.5,536.62H67.4M64.4,536.22H67.4M65.5,533.66H67.4M65.5,532.16H67.4M65.5,531.09H67.4M65.5,530.27H67.4M65.5,529.59H67.4M65.5,529.02H67.4M65.5,528.53H67.4M65.5,528.09H67.4M64.4,527.7H67.4" stroke="#000" stroke-width="0.85" fill="none"/>
<path d="M69.6,564V567M72.19,564V565.9M73.7,564V565.9M74.78,564V565.9M75.61,564V565.9M76.29,564V565.9M76.87,564V565.9M77.37,564V565.9M77.8,564V565.9M78.2,564V567M80.79,564V565.9M82.3,564V565.9M83.38,564V565.9M84.21,564V565.9M84.89,564V565.9M85.47,564V565.9M85.97,564V565.9M86.4,564V565.9M86.8,564V567M89.39,564V565.9M90.9,564V565.9M91.98,564V565.9M92.81,564V565.9M93.49,564V565.9M94.07,564V565.9M94.57,564V565.9M95,564V565.9M95.4,564V567M97.99,564V565.9M99.5,564V565.9M100.58,564V565.9M101.41,564V565.9M102.09,564V565.9M102.67,564V565.9M103.17,564V565.9M103.6,564V565.9M104,564V567" stroke="#000" stroke-width="0.85" fill="none"/>
<rect x="67.4" y="524.9" width="39.4" height="39.1" fill="none" stroke="#111" stroke-width="1.2"/>
<line x1="67.4" y1="543.6" x2="106.8" y2="543.6" stroke="#a857a8" stroke-width="1"/>
<line x1="85.4" y1="524.9" x2="85.4" y2="543.6" stroke="#a857a8" stroke-width="1"/>
<text x="68.8" y="533.4" font-size="7.8" fill="#c41538" textLength="8.3" lengthAdjust="spacingAndGlyphs" stroke="#c41538" stroke-width="0.2">81</text>
<text x="104.5" y="533.4" font-size="7.8" text-anchor="end" fill="#c41538" textLength="3.7" lengthAdjust="spacingAndGlyphs" stroke="#c41538" stroke-width="0.2">7</text>
<clipPath id="cp9"><rect x="132.9" y="389.8" width="38.1" height="38.1"/></clipPath><g clip-path="url(#cp9)">
<g filter="url(#spk)"><ellipse cx="142" cy="419" rx="8" ry="2.8" fill="#6a84d0" opacity="0.5" transform="rotate(0 142 419)"/></g>
<g filter="url(#bl1)" transform="translate(140.5 419) rotate(0)">
<ellipse cx="0" cy="0" rx="6.5" ry="1.8" fill="#c8d2f0" opacity="0.55"/>
<ellipse cx="0" cy="0" rx="5.2" ry="1.44" fill="#5a78d0" opacity="0.8"/>
<ellipse cx="0" cy="0" rx="4.03" ry="1.12" fill="#2f55c0" opacity="0.95"/>
</g>
<g filter="url(#bl1)" opacity="1">
<ellipse cx="143.2" cy="418.9" rx="3.4" ry="1.5" fill="#50c878"/>
<ellipse cx="143.2" cy="418.9" rx="2.4" ry="1.1" fill="#c0dc38"/>
<ellipse cx="143.2" cy="418.9" rx="1.5" ry="0.8" fill="#f8c020"/>
</g>
</g>
<path d="M129.5,427.7H132.3M129.5,420.16H132.3M129.5,412.62H132.3M129.5,405.08H132.3M129.5,397.54H132.3M129.5,390H132.3" stroke="#000" stroke-width="0.85" fill="none"/>
<path d="M134.5,428.5V431.5M137.08,428.5V430.4M138.59,428.5V430.4M139.66,428.5V430.4M140.49,428.5V430.4M141.17,428.5V430.4M141.75,428.5V430.4M142.24,428.5V430.4M142.68,428.5V430.4M143.07,428.5V431.5M145.66,428.5V430.4M147.17,428.5V430.4M148.24,428.5V430.4M149.07,428.5V430.4M149.75,428.5V430.4M150.32,428.5V430.4M150.82,428.5V430.4M151.26,428.5V430.4M151.65,428.5V431.5M154.23,428.5V430.4M155.74,428.5V430.4M156.81,428.5V430.4M157.64,428.5V430.4M158.32,428.5V430.4M158.9,428.5V430.4M159.39,428.5V430.4M159.83,428.5V430.4M160.22,428.5V431.5M162.81,428.5V430.4M164.32,428.5V430.4M165.39,428.5V430.4M166.22,428.5V430.4M166.9,428.5V430.4M167.47,428.5V430.4M167.97,428.5V430.4M168.41,428.5V430.4M168.8,428.5V431.5" stroke="#000" stroke-width="0.85" fill="none"/>
<rect x="132.3" y="389.2" width="39.3" height="39.3" fill="none" stroke="#111" stroke-width="1.2"/>
<line x1="147.2" y1="398.2" x2="171.6" y2="398.2" stroke="#a857a8" stroke-width="1"/>
<line x1="147.2" y1="398.2" x2="147.2" y2="428.5" stroke="#a857a8" stroke-width="1"/>
<clipPath id="cp10"><rect x="132.9" y="435" width="38.1" height="37.8"/></clipPath><g clip-path="url(#cp10)">
<g filter="url(#spk)"><ellipse cx="143" cy="462" rx="9" ry="5" fill="#6a84d0" opacity="0.5" transform="rotate(0 143 462)"/></g>
<g filter="url(#bl1)" transform="translate(142.5 462.3) rotate(0)">
<ellipse cx="0" cy="0" rx="6" ry="3.6" fill="#c8d2f0" opacity="0.55"/>
<ellipse cx="0" cy="0" rx="4.8" ry="2.88" fill="#5a78d0" opacity="0.8"/>
<ellipse cx="0" cy="0" rx="3.72" ry="2.23" fill="#2f55c0" opacity="0.95"/>
</g>
<g filter="url(#bl1)" opacity="1">
<ellipse cx="143.5" cy="462" rx="3.6" ry="2.4" fill="#50c878"/>
<ellipse cx="143.5" cy="462" rx="2.6" ry="1.7" fill="#c0dc38"/>
<ellipse cx="143.5" cy="462" rx="1.7" ry="1.1" fill="#f8c020"/>
<ellipse cx="143.5" cy="462" rx="0.9" ry="0.6" fill="#f07018"/>
</g>
</g>
<path d="M129.5,472.6H132.3M129.5,465.12H132.3M129.5,457.64H132.3M129.5,450.16H132.3M129.5,442.68H132.3M129.5,435.2H132.3" stroke="#000" stroke-width="0.85" fill="none"/>
<path d="M134.5,473.4V476.4M137.08,473.4V475.3M138.59,473.4V475.3M139.66,473.4V475.3M140.49,473.4V475.3M141.17,473.4V475.3M141.75,473.4V475.3M142.24,473.4V475.3M142.68,473.4V475.3M143.07,473.4V476.4M145.66,473.4V475.3M147.17,473.4V475.3M148.24,473.4V475.3M149.07,473.4V475.3M149.75,473.4V475.3M150.32,473.4V475.3M150.82,473.4V475.3M151.26,473.4V475.3M151.65,473.4V476.4M154.23,473.4V475.3M155.74,473.4V475.3M156.81,473.4V475.3M157.64,473.4V475.3M158.32,473.4V475.3M158.9,473.4V475.3M159.39,473.4V475.3M159.83,473.4V475.3M160.22,473.4V476.4M162.81,473.4V475.3M164.32,473.4V475.3M165.39,473.4V475.3M166.22,473.4V475.3M166.9,473.4V475.3M167.47,473.4V475.3M167.97,473.4V475.3M168.41,473.4V475.3M168.8,473.4V476.4" stroke="#000" stroke-width="0.85" fill="none"/>
<rect x="132.3" y="434.4" width="39.3" height="39" fill="none" stroke="#111" stroke-width="1.2"/>
<line x1="147.2" y1="443.8" x2="171.6" y2="443.8" stroke="#a857a8" stroke-width="1"/>
<line x1="147.2" y1="443.8" x2="147.2" y2="473.4" stroke="#a857a8" stroke-width="1"/>
<clipPath id="cp11"><rect x="132.9" y="480.4" width="38.1" height="37.9"/></clipPath><g clip-path="url(#cp11)">
<g filter="url(#spk)"><ellipse cx="143" cy="508.5" rx="12" ry="4.5" fill="#6a84d0" opacity="0.55" transform="rotate(0 143 508.5)"/></g>
<g filter="url(#bl1)" transform="translate(142 508.3) rotate(0)">
<ellipse cx="0" cy="0" rx="9" ry="3" fill="#c8d2f0" opacity="0.55"/>
<ellipse cx="0" cy="0" rx="7.2" ry="2.4" fill="#5a78d0" opacity="0.8"/>
<ellipse cx="0" cy="0" rx="5.58" ry="1.86" fill="#2f55c0" opacity="0.95"/>
</g>
<g filter="url(#bl1)" opacity="1">
<ellipse cx="142.6" cy="508.3" rx="6.5" ry="2.2" fill="#50c878"/>
<ellipse cx="142.6" cy="508.3" rx="5" ry="1.7" fill="#c0dc38"/>
<ellipse cx="142.6" cy="508.3" rx="3.5" ry="1.3" fill="#f8c020"/>
<ellipse cx="142.6" cy="508.3" rx="2.2" ry="0.9" fill="#f07018"/>
<ellipse cx="142.6" cy="508.3" rx="1.2" ry="0.6" fill="#e01818"/>
</g>
</g>
<path d="M129.5,518.1H132.3M129.5,510.6H132.3M129.5,503.1H132.3M129.5,495.6H132.3M129.5,488.1H132.3M129.5,480.6H132.3" stroke="#000" stroke-width="0.85" fill="none"/>
<path d="M134.5,518.9V521.9M137.08,518.9V520.8M138.59,518.9V520.8M139.66,518.9V520.8M140.49,518.9V520.8M141.17,518.9V520.8M141.75,518.9V520.8M142.24,518.9V520.8M142.68,518.9V520.8M143.07,518.9V521.9M145.66,518.9V520.8M147.17,518.9V520.8M148.24,518.9V520.8M149.07,518.9V520.8M149.75,518.9V520.8M150.32,518.9V520.8M150.82,518.9V520.8M151.26,518.9V520.8M151.65,518.9V521.9M154.23,518.9V520.8M155.74,518.9V520.8M156.81,518.9V520.8M157.64,518.9V520.8M158.32,518.9V520.8M158.9,518.9V520.8M159.39,518.9V520.8M159.83,518.9V520.8M160.22,518.9V521.9M162.81,518.9V520.8M164.32,518.9V520.8M165.39,518.9V520.8M166.22,518.9V520.8M166.9,518.9V520.8M167.47,518.9V520.8M167.97,518.9V520.8M168.41,518.9V520.8M168.8,518.9V521.9" stroke="#000" stroke-width="0.85" fill="none"/>
<rect x="132.3" y="479.8" width="39.3" height="39.1" fill="none" stroke="#111" stroke-width="1.2"/>
<line x1="147.2" y1="489.3" x2="171.6" y2="489.3" stroke="#a857a8" stroke-width="1"/>
<line x1="147.2" y1="489.3" x2="147.2" y2="518.9" stroke="#a857a8" stroke-width="1"/>
<clipPath id="cp12"><rect x="132.9" y="526" width="38.1" height="37.6"/></clipPath><g clip-path="url(#cp12)">
<g filter="url(#spk)"><ellipse cx="146" cy="548" rx="16" ry="14" fill="#5a74cc" opacity="0.7" transform="rotate(0 146 548)"/></g>
<path d="M131,537 Q140,533 152,535 Q160,538 159.5,548 Q160,560 150,561.5 L131,562 Z" fill="#2f50bc" opacity="0.9" filter="url(#bl2)"/>
<g filter="url(#bl1)" opacity="1">
<ellipse cx="146.8" cy="550.5" rx="12.5" ry="8" fill="#2f6fd8"/>
<ellipse cx="146.8" cy="550.5" rx="11" ry="6.6" fill="#38b0e0"/>
<ellipse cx="146.8" cy="550.5" rx="9" ry="5.3" fill="#50c878"/>
<ellipse cx="146.8" cy="550.5" rx="7" ry="4.1" fill="#c0dc38"/>
<ellipse cx="146.8" cy="550.5" rx="5" ry="3" fill="#f8c020"/>
<ellipse cx="146.8" cy="550.5" rx="3.2" ry="2" fill="#f07018"/>
<ellipse cx="146.8" cy="550.5" rx="1.8" ry="1.2" fill="#e01818"/>
</g>
</g>
<path d="M129.5,563.4H132.3M129.5,555.96H132.3M129.5,548.52H132.3M129.5,541.08H132.3M129.5,533.64H132.3M129.5,526.2H132.3" stroke="#000" stroke-width="0.85" fill="none"/>
<path d="M134.5,564.2V567.2M137.08,564.2V566.1M138.59,564.2V566.1M139.66,564.2V566.1M140.49,564.2V566.1M141.17,564.2V566.1M141.75,564.2V566.1M142.24,564.2V566.1M142.68,564.2V566.1M143.07,564.2V567.2M145.66,564.2V566.1M147.17,564.2V566.1M148.24,564.2V566.1M149.07,564.2V566.1M149.75,564.2V566.1M150.32,564.2V566.1M150.82,564.2V566.1M151.26,564.2V566.1M151.65,564.2V567.2M154.23,564.2V566.1M155.74,564.2V566.1M156.81,564.2V566.1M157.64,564.2V566.1M158.32,564.2V566.1M158.9,564.2V566.1M159.39,564.2V566.1M159.83,564.2V566.1M160.22,564.2V567.2M162.81,564.2V566.1M164.32,564.2V566.1M165.39,564.2V566.1M166.22,564.2V566.1M166.9,564.2V566.1M167.47,564.2V566.1M167.97,564.2V566.1M168.41,564.2V566.1M168.8,564.2V567.2" stroke="#000" stroke-width="0.85" fill="none"/>
<rect x="132.3" y="525.4" width="39.3" height="38.8" fill="none" stroke="#111" stroke-width="1.2"/>
<line x1="147.2" y1="534.7" x2="171.6" y2="534.7" stroke="#a857a8" stroke-width="1"/>
<line x1="147.2" y1="534.7" x2="147.2" y2="564.2" stroke="#a857a8" stroke-width="1"/>
<text x="168.9" y="408.2" font-size="7.8" text-anchor="end" fill="#c41538" textLength="3.7" lengthAdjust="spacingAndGlyphs" stroke="#c41538" stroke-width="0.2">1</text>
<text x="168.9" y="452.4" font-size="7.8" text-anchor="end" fill="#c41538" textLength="3.7" lengthAdjust="spacingAndGlyphs" stroke="#c41538" stroke-width="0.2">6</text>
<text x="168.9" y="499.1" font-size="7.8" text-anchor="end" fill="#c41538" textLength="8.1" lengthAdjust="spacingAndGlyphs" stroke="#c41538" stroke-width="0.2">17</text>
<text x="168.9" y="545.5" font-size="7.8" text-anchor="end" fill="#c41538" textLength="8.1" lengthAdjust="spacingAndGlyphs" stroke="#c41538" stroke-width="0.2">52</text>
<clipPath id="cp13"><rect x="201.8" y="389.8" width="38.2" height="38.2"/></clipPath><g clip-path="url(#cp13)">
<g filter="url(#spk)"><ellipse cx="214" cy="416" rx="8" ry="4" fill="#7088d0" opacity="0.75" transform="rotate(-30 214 416)"/></g>
<g filter="url(#bl1)" transform="translate(215.5 415) rotate(0)">
<ellipse cx="0" cy="0" rx="2" ry="1.2" fill="#c8d2f0" opacity="0.55"/>
<ellipse cx="0" cy="0" rx="1.6" ry="0.96" fill="#5a78d0" opacity="0.8"/>
</g>
</g>
<path d="M198.4,427.8H201.2M198.4,420.24H201.2M198.4,412.68H201.2M198.4,405.12H201.2M198.4,397.56H201.2M198.4,390H201.2" stroke="#000" stroke-width="0.85" fill="none"/>
<path d="M203.4,428.6V431.6M205.99,428.6V430.5M207.5,428.6V430.5M208.58,428.6V430.5M209.41,428.6V430.5M210.09,428.6V430.5M210.67,428.6V430.5M211.17,428.6V430.5M211.6,428.6V430.5M212,428.6V431.6M214.59,428.6V430.5M216.1,428.6V430.5M217.18,428.6V430.5M218.01,428.6V430.5M218.69,428.6V430.5M219.27,428.6V430.5M219.77,428.6V430.5M220.2,428.6V430.5M220.6,428.6V431.6M223.19,428.6V430.5M224.7,428.6V430.5M225.78,428.6V430.5M226.61,428.6V430.5M227.29,428.6V430.5M227.87,428.6V430.5M228.37,428.6V430.5M228.8,428.6V430.5M229.2,428.6V431.6M231.79,428.6V430.5M233.3,428.6V430.5M234.38,428.6V430.5M235.21,428.6V430.5M235.89,428.6V430.5M236.47,428.6V430.5M236.97,428.6V430.5M237.4,428.6V430.5M237.8,428.6V431.6" stroke="#000" stroke-width="0.85" fill="none"/>
<rect x="201.2" y="389.2" width="39.4" height="39.4" fill="none" stroke="#111" stroke-width="1.2"/>
<line x1="216.4" y1="398.9" x2="240.6" y2="398.9" stroke="#a857a8" stroke-width="1"/>
<line x1="216.4" y1="398.9" x2="216.4" y2="428.6" stroke="#a857a8" stroke-width="1"/>
<text x="237.3" y="408.8" font-size="7.8" text-anchor="end" fill="#c41538" textLength="8.2" lengthAdjust="spacingAndGlyphs" stroke="#c41538" stroke-width="0.2">62</text>
<clipPath id="cp14"><rect x="201.8" y="435" width="38.2" height="37.8"/></clipPath><g clip-path="url(#cp14)">
<g filter="url(#spk)"><ellipse cx="215" cy="461" rx="8" ry="4" fill="#9ab0e8" opacity="0.55" transform="rotate(-30 215 461)"/></g>
</g>
<path d="M198.4,472.6H201.2M198.4,465.12H201.2M198.4,457.64H201.2M198.4,450.16H201.2M198.4,442.68H201.2M198.4,435.2H201.2" stroke="#000" stroke-width="0.85" fill="none"/>
<path d="M203.4,473.4V476.4M205.99,473.4V475.3M207.5,473.4V475.3M208.58,473.4V475.3M209.41,473.4V475.3M210.09,473.4V475.3M210.67,473.4V475.3M211.17,473.4V475.3M211.6,473.4V475.3M212,473.4V476.4M214.59,473.4V475.3M216.1,473.4V475.3M217.18,473.4V475.3M218.01,473.4V475.3M218.69,473.4V475.3M219.27,473.4V475.3M219.77,473.4V475.3M220.2,473.4V475.3M220.6,473.4V476.4M223.19,473.4V475.3M224.7,473.4V475.3M225.78,473.4V475.3M226.61,473.4V475.3M227.29,473.4V475.3M227.87,473.4V475.3M228.37,473.4V475.3M228.8,473.4V475.3M229.2,473.4V476.4M231.79,473.4V475.3M233.3,473.4V475.3M234.38,473.4V475.3M235.21,473.4V475.3M235.89,473.4V475.3M236.47,473.4V475.3M236.97,473.4V475.3M237.4,473.4V475.3M237.8,473.4V476.4" stroke="#000" stroke-width="0.85" fill="none"/>
<rect x="201.2" y="434.4" width="39.4" height="39" fill="none" stroke="#111" stroke-width="1.2"/>
<line x1="216.4" y1="443.4" x2="240.6" y2="443.4" stroke="#a857a8" stroke-width="1"/>
<line x1="216.4" y1="443.4" x2="216.4" y2="473.4" stroke="#a857a8" stroke-width="1"/>
<text x="237.3" y="452.8" font-size="7.8" text-anchor="end" fill="#c41538" textLength="8.2" lengthAdjust="spacingAndGlyphs" stroke="#c41538" stroke-width="0.2">77</text>
<clipPath id="cp15"><rect x="201.8" y="480" width="38.2" height="38.3"/></clipPath><g clip-path="url(#cp15)">
<g filter="url(#spk)"><ellipse cx="212" cy="508.3" rx="12" ry="3.2" fill="#7088d0" opacity="0.75" transform="rotate(-8 212 508.3)"/></g>
<g filter="url(#bl1)" transform="translate(218.5 506.8) rotate(-30)">
<ellipse cx="0" cy="0" rx="4.5" ry="3.3" fill="#c8d2f0" opacity="0.55"/>
<ellipse cx="0" cy="0" rx="3.6" ry="2.64" fill="#5a78d0" opacity="0.8"/>
<ellipse cx="0" cy="0" rx="2.79" ry="2.05" fill="#2f55c0" opacity="0.95"/>
</g>
<g filter="url(#bl1)" opacity="1">
<ellipse cx="219.6" cy="506.2" rx="2.6" ry="2.1" fill="#50c878"/>
<ellipse cx="219.6" cy="506.2" rx="1.8" ry="1.5" fill="#c0dc38"/>
<ellipse cx="219.6" cy="506.2" rx="1.1" ry="0.9" fill="#f8c020"/>
<ellipse cx="219.6" cy="506.2" rx="0.6" ry="0.5" fill="#f07018"/>
</g>
</g>
<path d="M198.4,518.1H201.2M198.4,510.52H201.2M198.4,502.94H201.2M198.4,495.36H201.2M198.4,487.78H201.2M198.4,480.2H201.2" stroke="#000" stroke-width="0.85" fill="none"/>
<path d="M203.4,518.9V521.9M205.99,518.9V520.8M207.5,518.9V520.8M208.58,518.9V520.8M209.41,518.9V520.8M210.09,518.9V520.8M210.67,518.9V520.8M211.17,518.9V520.8M211.6,518.9V520.8M212,518.9V521.9M214.59,518.9V520.8M216.1,518.9V520.8M217.18,518.9V520.8M218.01,518.9V520.8M218.69,518.9V520.8M219.27,518.9V520.8M219.77,518.9V520.8M220.2,518.9V520.8M220.6,518.9V521.9M223.19,518.9V520.8M224.7,518.9V520.8M225.78,518.9V520.8M226.61,518.9V520.8M227.29,518.9V520.8M227.87,518.9V520.8M228.37,518.9V520.8M228.8,518.9V520.8M229.2,518.9V521.9M231.79,518.9V520.8M233.3,518.9V520.8M234.38,518.9V520.8M235.21,518.9V520.8M235.89,518.9V520.8M236.47,518.9V520.8M236.97,518.9V520.8M237.4,518.9V520.8M237.8,518.9V521.9" stroke="#000" stroke-width="0.85" fill="none"/>
<rect x="201.2" y="479.4" width="39.4" height="39.5" fill="none" stroke="#111" stroke-width="1.2"/>
<line x1="216.4" y1="489.3" x2="240.6" y2="489.3" stroke="#a857a8" stroke-width="1"/>
<line x1="216.4" y1="489.3" x2="216.4" y2="518.9" stroke="#a857a8" stroke-width="1"/>
<text x="237.3" y="498.8" font-size="7.8" text-anchor="end" fill="#c41538" textLength="8.2" lengthAdjust="spacingAndGlyphs" stroke="#c41538" stroke-width="0.2">80</text>
<clipPath id="cp16"><rect x="201.8" y="526" width="38.2" height="37.6"/></clipPath><g clip-path="url(#cp16)">
<g filter="url(#spk)"><ellipse cx="213" cy="548" rx="14" ry="12.5" fill="#7a90d8" opacity="0.65" transform="rotate(0 213 548)"/></g>
<g filter="url(#bl2)" transform="translate(210 550) rotate(0)">
<ellipse cx="0" cy="0" rx="12" ry="3.2" fill="#c8d2f0" opacity="0.55"/>
<ellipse cx="0" cy="0" rx="9.6" ry="2.56" fill="#5a78d0" opacity="0.8"/>
<ellipse cx="0" cy="0" rx="7.44" ry="1.98" fill="#2f55c0" opacity="0.95"/>
<ellipse cx="0" cy="0" rx="5.4" ry="1.44" fill="#3aa0e0" opacity="0.95"/>
<ellipse cx="0" cy="0" rx="3.96" ry="1.06" fill="#4cc070" opacity="1"/>
</g>
<g filter="url(#bl1)" opacity="1">
<ellipse cx="222" cy="549.8" rx="7" ry="5.5" fill="#38b0e0"/>
<ellipse cx="222" cy="549.8" rx="5.8" ry="4.3" fill="#50c878"/>
<ellipse cx="222" cy="549.8" rx="4.6" ry="3.4" fill="#c0dc38"/>
<ellipse cx="222" cy="549.8" rx="3.5" ry="2.6" fill="#f8c020"/>
<ellipse cx="222" cy="549.8" rx="2.5" ry="1.9" fill="#f07018"/>
<ellipse cx="222" cy="549.8" rx="1.5" ry="1.2" fill="#e01818"/>
</g>
</g>
<path d="M198.4,563.4H201.2M198.4,555.96H201.2M198.4,548.52H201.2M198.4,541.08H201.2M198.4,533.64H201.2M198.4,526.2H201.2" stroke="#000" stroke-width="0.85" fill="none"/>
<path d="M203.4,564.2V567.2M205.99,564.2V566.1M207.5,564.2V566.1M208.58,564.2V566.1M209.41,564.2V566.1M210.09,564.2V566.1M210.67,564.2V566.1M211.17,564.2V566.1M211.6,564.2V566.1M212,564.2V567.2M214.59,564.2V566.1M216.1,564.2V566.1M217.18,564.2V566.1M218.01,564.2V566.1M218.69,564.2V566.1M219.27,564.2V566.1M219.77,564.2V566.1M220.2,564.2V566.1M220.6,564.2V567.2M223.19,564.2V566.1M224.7,564.2V566.1M225.78,564.2V566.1M226.61,564.2V566.1M227.29,564.2V566.1M227.87,564.2V566.1M228.37,564.2V566.1M228.8,564.2V566.1M229.2,564.2V567.2M231.79,564.2V566.1M233.3,564.2V566.1M234.38,564.2V566.1M235.21,564.2V566.1M235.89,564.2V566.1M236.47,564.2V566.1M236.97,564.2V566.1M237.4,564.2V566.1M237.8,564.2V567.2" stroke="#000" stroke-width="0.85" fill="none"/>
<rect x="201.2" y="525.4" width="39.4" height="38.8" fill="none" stroke="#111" stroke-width="1.2"/>
<line x1="216.4" y1="534.7" x2="240.6" y2="534.7" stroke="#a857a8" stroke-width="1"/>
<line x1="216.4" y1="534.7" x2="216.4" y2="564.2" stroke="#a857a8" stroke-width="1"/>
<text x="237.3" y="545.7" font-size="7.8" text-anchor="end" fill="#c41538" textLength="8.2" lengthAdjust="spacingAndGlyphs" stroke="#c41538" stroke-width="0.2">69</text>
<line x1="295.8" y1="389.5" x2="295.8" y2="468" stroke="#111" stroke-width="1.2"/>
<line x1="292.9" y1="467.4" x2="295.8" y2="467.4" stroke="#111" stroke-width="1"/>
<text x="290.2" y="470.8" font-size="7.6" text-anchor="end" fill="#231f20">10<tspan font-size="5" dy="-3.1">4</tspan></text>
<line x1="292.9" y1="454.88" x2="295.8" y2="454.88" stroke="#111" stroke-width="1"/>
<text x="290.2" y="458.28" font-size="7.6" text-anchor="end" fill="#231f20">10<tspan font-size="5" dy="-3.1">5</tspan></text>
<line x1="292.9" y1="442.36" x2="295.8" y2="442.36" stroke="#111" stroke-width="1"/>
<text x="290.2" y="445.76" font-size="7.6" text-anchor="end" fill="#231f20">10<tspan font-size="5" dy="-3.1">6</tspan></text>
<line x1="292.9" y1="429.84" x2="295.8" y2="429.84" stroke="#111" stroke-width="1"/>
<text x="290.2" y="433.24" font-size="7.6" text-anchor="end" fill="#231f20">10<tspan font-size="5" dy="-3.1">7</tspan></text>
<line x1="292.9" y1="417.32" x2="295.8" y2="417.32" stroke="#111" stroke-width="1"/>
<text x="290.2" y="420.72" font-size="7.6" text-anchor="end" fill="#231f20">10<tspan font-size="5" dy="-3.1">8</tspan></text>
<line x1="292.9" y1="404.8" x2="295.8" y2="404.8" stroke="#111" stroke-width="1"/>
<text x="290.2" y="408.2" font-size="7.6" text-anchor="end" fill="#231f20">10<tspan font-size="5" dy="-3.1">9</tspan></text>
<line x1="292.9" y1="392.28" x2="295.8" y2="392.28" stroke="#111" stroke-width="1"/>
<text x="290.2" y="395.68" font-size="7.6" text-anchor="end" fill="#231f20">10<tspan font-size="5" dy="-3.1">10</tspan></text>
<line x1="293.2" y1="467.4" x2="371.2" y2="467.4" stroke="#111" stroke-width="1.2"/>
<rect x="301.5" y="440.8" width="11.7" height="26.6" fill="#a8052a"/>
<rect x="318.8" y="429.2" width="11.9" height="38.2" fill="#a8052a"/>
<rect x="336.2" y="433.8" width="11.9" height="33.6" fill="#a8052a"/>
<rect x="353.9" y="411.1" width="11.9" height="56.3" fill="#a8052a"/>
<line x1="307.3" y1="441" x2="307.3" y2="437.5" stroke="#222" stroke-width="1"/>
<line x1="303.7" y1="437.5" x2="310.9" y2="437.5" stroke="#222" stroke-width="1.1"/>
<line x1="324.7" y1="429.2" x2="324.7" y2="422.3" stroke="#222" stroke-width="1"/>
<line x1="321.1" y1="422.3" x2="328.3" y2="422.3" stroke="#222" stroke-width="1.1"/>
<line x1="342.4" y1="433.8" x2="342.4" y2="430.5" stroke="#222" stroke-width="1"/>
<line x1="338.8" y1="430.5" x2="346" y2="430.5" stroke="#222" stroke-width="1.1"/>
<line x1="359.6" y1="411.1" x2="359.6" y2="402.8" stroke="#222" stroke-width="1"/>
<line x1="356" y1="402.8" x2="363.2" y2="402.8" stroke="#222" stroke-width="1.1"/>
<circle cx="307.3" cy="432.6" r="1.6" fill="#0d1a16"/>
<circle cx="307.5" cy="436.5" r="1.6" fill="#0d1a16"/>
<circle cx="305.5" cy="438.5" r="1.6" fill="#0d1a16"/>
<circle cx="309.5" cy="438.5" r="1.6" fill="#0d1a16"/>
<circle cx="304.5" cy="441" r="1.6" fill="#0d1a16"/>
<circle cx="307.5" cy="441" r="1.6" fill="#0d1a16"/>
<circle cx="310.5" cy="441" r="1.6" fill="#0d1a16"/>
<circle cx="303.5" cy="443.5" r="1.6" fill="#0d1a16"/>
<circle cx="306.5" cy="443.5" r="1.6" fill="#0d1a16"/>
<circle cx="309.5" cy="443.5" r="1.6" fill="#0d1a16"/>
<circle cx="312" cy="443" r="1.6" fill="#0d1a16"/>
<circle cx="305" cy="446" r="1.6" fill="#0d1a16"/>
<circle cx="308" cy="446" r="1.6" fill="#0d1a16"/>
<circle cx="311" cy="446" r="1.6" fill="#0d1a16"/>
<circle cx="307.3" cy="449.3" r="1.6" fill="#0d1a16"/>
<circle cx="324.7" cy="416.9" r="1.6" fill="#0d1a16"/>
<circle cx="322" cy="435.5" r="1.6" fill="#0d1a16"/>
<circle cx="327.5" cy="435.5" r="1.6" fill="#0d1a16"/>
<circle cx="322" cy="440" r="1.6" fill="#0d1a16"/>
<circle cx="327.5" cy="440" r="1.6" fill="#0d1a16"/>
<circle cx="320.5" cy="444.5" r="1.6" fill="#0d1a16"/>
<circle cx="325" cy="444.5" r="1.6" fill="#0d1a16"/>
<circle cx="329" cy="444.5" r="1.6" fill="#0d1a16"/>
<circle cx="320.5" cy="447" r="1.6" fill="#0d1a16"/>
<circle cx="325" cy="447.5" r="1.6" fill="#0d1a16"/>
<circle cx="329" cy="447" r="1.6" fill="#0d1a16"/>
<circle cx="342.4" cy="425.4" r="1.6" fill="#0d1a16"/>
<circle cx="339" cy="430.5" r="1.6" fill="#0d1a16"/>
<circle cx="346" cy="431" r="1.6" fill="#0d1a16"/>
<circle cx="338.5" cy="436.5" r="1.6" fill="#0d1a16"/>
<circle cx="342" cy="437.5" r="1.6" fill="#0d1a16"/>
<circle cx="346" cy="437.5" r="1.6" fill="#0d1a16"/>
<circle cx="339.5" cy="445" r="1.6" fill="#0d1a16"/>
<circle cx="343.5" cy="446.5" r="1.6" fill="#0d1a16"/>
<circle cx="342.4" cy="452.5" r="1.6" fill="#0d1a16"/>
<circle cx="359.6" cy="402.2" r="1.6" fill="#0d1a16"/>
<circle cx="357" cy="404" r="1.6" fill="#0d1a16"/>
<circle cx="361.5" cy="405.5" r="1.6" fill="#0d1a16"/>
<circle cx="359" cy="407.5" r="1.6" fill="#0d1a16"/>
<circle cx="356.5" cy="411.5" r="1.6" fill="#0d1a16"/>
<circle cx="361" cy="411.5" r="1.6" fill="#0d1a16"/>
<circle cx="363.5" cy="413" r="1.6" fill="#0d1a16"/>
<circle cx="355.5" cy="415" r="1.6" fill="#0d1a16"/>
<circle cx="359" cy="416" r="1.6" fill="#0d1a16"/>
<circle cx="362" cy="415" r="1.6" fill="#0d1a16"/>
<circle cx="355" cy="419" r="1.6" fill="#0d1a16"/>
<circle cx="358.5" cy="419.5" r="1.6" fill="#0d1a16"/>
<circle cx="362.5" cy="420" r="1.6" fill="#0d1a16"/>
<circle cx="356" cy="423" r="1.6" fill="#0d1a16"/>
<circle cx="360" cy="423.5" r="1.6" fill="#0d1a16"/>
<circle cx="357" cy="426.5" r="1.6" fill="#0d1a16"/>
<circle cx="361" cy="427" r="1.6" fill="#0d1a16"/>
<circle cx="359" cy="430" r="1.6" fill="#0d1a16"/>
<circle cx="357.5" cy="435.5" r="1.6" fill="#0d1a16"/>
<circle cx="360.5" cy="435" r="1.6" fill="#0d1a16"/>
<path d="M304.2,402.6 H345 M324.2,402.6 V392 H359.4 V394.4" stroke="#222" stroke-width="1" fill="none"/>
<path d="M307.3,429.2 V413.5 H342.4 V421.5" stroke="#222" stroke-width="1" fill="none"/>
<circle cx="341.4" cy="387.6" r="1" fill="#222"/>
<circle cx="325" cy="410" r="1" fill="#222"/>
<text x="268.5" y="428.2" font-size="9.5" text-anchor="middle" transform="rotate(-90 268.5 428.2)" textLength="52.6" lengthAdjust="spacingAndGlyphs" stroke="#231f20" stroke-width="0.12">DN1 cell # in Th</text>
<line x1="307.3" y1="467.4" x2="307.3" y2="470.2" stroke="#111" stroke-width="1"/>
<text x="309.9" y="479.2" font-size="8" text-anchor="end" transform="rotate(-45 309.9 479.2)" textLength="15.5" lengthAdjust="spacingAndGlyphs" stroke="#231f20" stroke-width="0.12">Con</text>
<line x1="324.7" y1="467.4" x2="324.7" y2="470.2" stroke="#111" stroke-width="1"/>
<text x="327.3" y="479.2" font-size="8" text-anchor="end" transform="rotate(-45 327.3 479.2)" textLength="12.5" lengthAdjust="spacingAndGlyphs" stroke="#231f20" stroke-width="0.12">K-/-</text>
<line x1="342.4" y1="467.4" x2="342.4" y2="470.2" stroke="#111" stroke-width="1"/>
<text x="345" y="479.2" font-size="8" text-anchor="end" transform="rotate(-45 345 479.2)" textLength="13.5" lengthAdjust="spacingAndGlyphs" stroke="#231f20" stroke-width="0.12">Q/+</text>
<line x1="359.6" y1="467.4" x2="359.6" y2="470.2" stroke="#111" stroke-width="1"/>
<text x="362.2" y="479.2" font-size="8" text-anchor="end" transform="rotate(-45 362.2 479.2)" textLength="31" lengthAdjust="spacingAndGlyphs" stroke="#231f20" stroke-width="0.12">K-/-;Q/+</text>
<line x1="418.5" y1="390.2" x2="418.5" y2="468.1" stroke="#111" stroke-width="1.2"/>
<line x1="415.6" y1="467.5" x2="418.5" y2="467.5" stroke="#111" stroke-width="1"/>
<text x="412" y="470.9" font-size="7.6" text-anchor="end" fill="#231f20">10<tspan font-size="5" dy="-3.1">3</tspan></text>
<line x1="415.6" y1="454.97" x2="418.5" y2="454.97" stroke="#111" stroke-width="1"/>
<text x="412" y="458.37" font-size="7.6" text-anchor="end" fill="#231f20">10<tspan font-size="5" dy="-3.1">4</tspan></text>
<line x1="415.6" y1="442.44" x2="418.5" y2="442.44" stroke="#111" stroke-width="1"/>
<text x="412" y="445.84" font-size="7.6" text-anchor="end" fill="#231f20">10<tspan font-size="5" dy="-3.1">5</tspan></text>
<line x1="415.6" y1="429.91" x2="418.5" y2="429.91" stroke="#111" stroke-width="1"/>
<text x="412" y="433.31" font-size="7.6" text-anchor="end" fill="#231f20">10<tspan font-size="5" dy="-3.1">6</tspan></text>
<line x1="415.6" y1="417.38" x2="418.5" y2="417.38" stroke="#111" stroke-width="1"/>
<text x="412" y="420.78" font-size="7.6" text-anchor="end" fill="#231f20">10<tspan font-size="5" dy="-3.1">7</tspan></text>
<line x1="415.6" y1="404.85" x2="418.5" y2="404.85" stroke="#111" stroke-width="1"/>
<text x="412" y="408.25" font-size="7.6" text-anchor="end" fill="#231f20">10<tspan font-size="5" dy="-3.1">8</tspan></text>
<line x1="415.6" y1="392.32" x2="418.5" y2="392.32" stroke="#111" stroke-width="1"/>
<text x="412" y="395.72" font-size="7.6" text-anchor="end" fill="#231f20">10<tspan font-size="5" dy="-3.1">9</tspan></text>
<line x1="415.9" y1="467.5" x2="493.2" y2="467.5" stroke="#111" stroke-width="1.2"/>
<rect x="424" y="448.7" width="11.8" height="18.8" fill="#a8052a"/>
<rect x="441.7" y="446.9" width="11.4" height="20.6" fill="#a8052a"/>
<rect x="459" y="430.3" width="11.7" height="37.2" fill="#a8052a"/>
<rect x="476.8" y="407" width="11.2" height="60.5" fill="#a8052a"/>
<line x1="430.1" y1="448.7" x2="430.1" y2="443.5" stroke="#222" stroke-width="1"/>
<line x1="426.5" y1="443.5" x2="433.7" y2="443.5" stroke="#222" stroke-width="1.1"/>
<line x1="447.4" y1="446.9" x2="447.4" y2="444.5" stroke="#222" stroke-width="1"/>
<line x1="443.8" y1="444.5" x2="451" y2="444.5" stroke="#222" stroke-width="1.1"/>
<line x1="464.7" y1="430.3" x2="464.7" y2="426.8" stroke="#222" stroke-width="1"/>
<line x1="461.1" y1="426.8" x2="468.3" y2="426.8" stroke="#222" stroke-width="1.1"/>
<line x1="482.4" y1="407" x2="482.4" y2="401.4" stroke="#222" stroke-width="1"/>
<line x1="478.8" y1="401.4" x2="486" y2="401.4" stroke="#222" stroke-width="1.1"/>
<circle cx="430.1" cy="438.3" r="1.6" fill="#0d1a16"/>
<circle cx="426" cy="448" r="1.6" fill="#0d1a16"/>
<circle cx="429" cy="449" r="1.6" fill="#0d1a16"/>
<circle cx="433" cy="448" r="1.6" fill="#0d1a16"/>
<circle cx="430" cy="451.5" r="1.6" fill="#0d1a16"/>
<circle cx="427" cy="454" r="1.6" fill="#0d1a16"/>
<circle cx="431" cy="455" r="1.6" fill="#0d1a16"/>
<circle cx="430" cy="458.5" r="1.6" fill="#0d1a16"/>
<circle cx="432" cy="463.5" r="1.6" fill="#0d1a16"/>
<circle cx="428" cy="466" r="1.6" fill="#0d1a16"/>
<circle cx="434" cy="450.5" r="1.6" fill="#0d1a16"/>
<circle cx="425.5" cy="450.5" r="1.6" fill="#0d1a16"/>
<circle cx="447.4" cy="441.2" r="1.6" fill="#0d1a16"/>
<circle cx="444" cy="448.5" r="1.6" fill="#0d1a16"/>
<circle cx="451" cy="448.5" r="1.6" fill="#0d1a16"/>
<circle cx="447.5" cy="451" r="1.6" fill="#0d1a16"/>
<circle cx="445" cy="454.5" r="1.6" fill="#0d1a16"/>
<circle cx="450.5" cy="454" r="1.6" fill="#0d1a16"/>
<circle cx="460.4" cy="423.9" r="1.6" fill="#0d1a16"/>
<circle cx="464.7" cy="426" r="1.6" fill="#0d1a16"/>
<circle cx="469.4" cy="426.5" r="1.6" fill="#0d1a16"/>
<circle cx="460.4" cy="440" r="1.6" fill="#0d1a16"/>
<circle cx="469.4" cy="440" r="1.6" fill="#0d1a16"/>
<circle cx="464.7" cy="435.2" r="1.6" fill="#0d1a16"/>
<circle cx="464.7" cy="445" r="1.6" fill="#0d1a16"/>
<circle cx="464.7" cy="459.4" r="1.6" fill="#0d1a16"/>
<circle cx="462" cy="427.4" r="1.6" fill="#0d1a16"/>
<circle cx="467" cy="428.6" r="1.6" fill="#0d1a16"/>
<circle cx="479.7" cy="396.8" r="1.6" fill="#0d1a16"/>
<circle cx="479" cy="407.5" r="1.6" fill="#0d1a16"/>
<circle cx="485.4" cy="407.5" r="1.6" fill="#0d1a16"/>
<circle cx="482.5" cy="414.4" r="1.6" fill="#0d1a16"/>
<circle cx="478.5" cy="427.4" r="1.6" fill="#0d1a16"/>
<circle cx="486.3" cy="429.6" r="1.6" fill="#0d1a16"/>
<circle cx="482.5" cy="438.3" r="1.6" fill="#0d1a16"/>
<path d="M429.7,426.3 V388.5 H472.3 V393.2 M458.2,393.2 H485.4" stroke="#222" stroke-width="1" fill="none"/>
<path d="M447.4,436.9 V419.3 H466.2 V421.3" stroke="#222" stroke-width="1" fill="none"/>
<circle cx="453.5" cy="384.2" r="1" fill="#222"/>
<circle cx="456.6" cy="415.8" r="1" fill="#222"/>
<text x="395.4" y="464" font-size="9.4" transform="rotate(-90 395.4 464)" textLength="69" lengthAdjust="spacingAndGlyphs">cKit<tspan font-size="5.8" dy="-3">+</tspan><tspan dy="3"> DN1 cell # in Th</tspan></text>
<line x1="430.1" y1="467.5" x2="430.1" y2="470.3" stroke="#111" stroke-width="1"/>
<text x="432.7" y="479.3" font-size="8" text-anchor="end" transform="rotate(-45 432.7 479.3)" textLength="15.5" lengthAdjust="spacingAndGlyphs" stroke="#231f20" stroke-width="0.12">Con</text>
<line x1="447.4" y1="467.5" x2="447.4" y2="470.3" stroke="#111" stroke-width="1"/>
<text x="450" y="479.3" font-size="8" text-anchor="end" transform="rotate(-45 450 479.3)" textLength="12.5" lengthAdjust="spacingAndGlyphs" stroke="#231f20" stroke-width="0.12">K-/-</text>
<line x1="464.7" y1="467.5" x2="464.7" y2="470.3" stroke="#111" stroke-width="1"/>
<text x="467.3" y="479.3" font-size="8" text-anchor="end" transform="rotate(-45 467.3 479.3)" textLength="13.5" lengthAdjust="spacingAndGlyphs" stroke="#231f20" stroke-width="0.12">Q/+</text>
<line x1="482" y1="467.5" x2="482" y2="470.3" stroke="#111" stroke-width="1"/>
<text x="484.6" y="479.3" font-size="8" text-anchor="end" transform="rotate(-45 484.6 479.3)" textLength="31" lengthAdjust="spacingAndGlyphs" stroke="#231f20" stroke-width="0.12">K-/-;Q/+</text>
<line x1="298.2" y1="518" x2="298.2" y2="595.9" stroke="#111" stroke-width="1.2"/>
<line x1="295.3" y1="595.3" x2="298.2" y2="595.3" stroke="#111" stroke-width="1"/>
<text x="290.4" y="598.7" font-size="7.6" text-anchor="end" fill="#231f20">10<tspan font-size="5" dy="-3.1">3</tspan></text>
<line x1="295.3" y1="582.9" x2="298.2" y2="582.9" stroke="#111" stroke-width="1"/>
<text x="290.4" y="586.3" font-size="7.6" text-anchor="end" fill="#231f20">10<tspan font-size="5" dy="-3.1">4</tspan></text>
<line x1="295.3" y1="570.5" x2="298.2" y2="570.5" stroke="#111" stroke-width="1"/>
<text x="290.4" y="573.9" font-size="7.6" text-anchor="end" fill="#231f20">10<tspan font-size="5" dy="-3.1">5</tspan></text>
<line x1="295.3" y1="558.1" x2="298.2" y2="558.1" stroke="#111" stroke-width="1"/>
<text x="290.4" y="561.5" font-size="7.6" text-anchor="end" fill="#231f20">10<tspan font-size="5" dy="-3.1">6</tspan></text>
<line x1="295.3" y1="545.7" x2="298.2" y2="545.7" stroke="#111" stroke-width="1"/>
<text x="290.4" y="549.1" font-size="7.6" text-anchor="end" fill="#231f20">10<tspan font-size="5" dy="-3.1">7</tspan></text>
<line x1="295.3" y1="533.3" x2="298.2" y2="533.3" stroke="#111" stroke-width="1"/>
<text x="290.4" y="536.7" font-size="7.6" text-anchor="end" fill="#231f20">10<tspan font-size="5" dy="-3.1">8</tspan></text>
<line x1="295.3" y1="520.9" x2="298.2" y2="520.9" stroke="#111" stroke-width="1"/>
<text x="290.4" y="524.3" font-size="7.6" text-anchor="end" fill="#231f20">10<tspan font-size="5" dy="-3.1">9</tspan></text>
<line x1="295.6" y1="595.3" x2="371.5" y2="595.3" stroke="#111" stroke-width="1.2"/>
<rect x="304" y="569.4" width="11.3" height="25.9" fill="#a8052a"/>
<rect x="321" y="565" width="11.6" height="30.3" fill="#a8052a"/>
<rect x="338.3" y="556" width="11.2" height="39.3" fill="#a8052a"/>
<rect x="355.1" y="531.8" width="11.6" height="63.5" fill="#a8052a"/>
<line x1="309.5" y1="569.4" x2="309.5" y2="564" stroke="#222" stroke-width="1"/>
<line x1="305.9" y1="564" x2="313.1" y2="564" stroke="#222" stroke-width="1.1"/>
<line x1="326.5" y1="565" x2="326.5" y2="558.7" stroke="#222" stroke-width="1"/>
<line x1="322.9" y1="558.7" x2="330.1" y2="558.7" stroke="#222" stroke-width="1.1"/>
<line x1="343.8" y1="556" x2="343.8" y2="551" stroke="#222" stroke-width="1"/>
<line x1="340.2" y1="551" x2="347.4" y2="551" stroke="#222" stroke-width="1.1"/>
<line x1="360.8" y1="531.8" x2="360.8" y2="528.5" stroke="#222" stroke-width="1"/>
<line x1="357.2" y1="528.5" x2="364.4" y2="528.5" stroke="#222" stroke-width="1.1"/>
<circle cx="309.5" cy="560" r="1.6" fill="#0d1a16"/>
<circle cx="305" cy="568" r="1.6" fill="#0d1a16"/>
<circle cx="309" cy="569.5" r="1.6" fill="#0d1a16"/>
<circle cx="313.5" cy="569" r="1.6" fill="#0d1a16"/>
<circle cx="306" cy="573.5" r="1.6" fill="#0d1a16"/>
<circle cx="310.5" cy="574" r="1.6" fill="#0d1a16"/>
<circle cx="314" cy="572" r="1.6" fill="#0d1a16"/>
<circle cx="307" cy="578.5" r="1.6" fill="#0d1a16"/>
<circle cx="311.5" cy="579" r="1.6" fill="#0d1a16"/>
<circle cx="305.5" cy="585.5" r="1.6" fill="#0d1a16"/>
<circle cx="309.5" cy="589" r="1.6" fill="#0d1a16"/>
<circle cx="312.5" cy="586.5" r="1.6" fill="#0d1a16"/>
<circle cx="311.5" cy="563.5" r="1.6" fill="#0d1a16"/>
<circle cx="326.5" cy="555.7" r="1.6" fill="#0d1a16"/>
<circle cx="323" cy="564.5" r="1.6" fill="#0d1a16"/>
<circle cx="330" cy="564.5" r="1.6" fill="#0d1a16"/>
<circle cx="323" cy="573" r="1.6" fill="#0d1a16"/>
<circle cx="330" cy="573" r="1.6" fill="#0d1a16"/>
<circle cx="323" cy="578" r="1.6" fill="#0d1a16"/>
<circle cx="330" cy="578.5" r="1.6" fill="#0d1a16"/>
<circle cx="343.8" cy="547" r="1.6" fill="#0d1a16"/>
<circle cx="340" cy="551" r="1.6" fill="#0d1a16"/>
<circle cx="347" cy="551" r="1.6" fill="#0d1a16"/>
<circle cx="338.5" cy="555" r="1.6" fill="#0d1a16"/>
<circle cx="349" cy="555" r="1.6" fill="#0d1a16"/>
<circle cx="343.8" cy="558.5" r="1.6" fill="#0d1a16"/>
<circle cx="342" cy="565" r="1.6" fill="#0d1a16"/>
<circle cx="343.8" cy="571" r="1.6" fill="#0d1a16"/>
<circle cx="343.8" cy="584" r="1.6" fill="#0d1a16"/>
<circle cx="356" cy="527" r="1.6" fill="#0d1a16"/>
<circle cx="365.5" cy="525.5" r="1.6" fill="#0d1a16"/>
<circle cx="360.8" cy="529" r="1.6" fill="#0d1a16"/>
<circle cx="358" cy="535" r="1.6" fill="#0d1a16"/>
<circle cx="365" cy="536.5" r="1.6" fill="#0d1a16"/>
<circle cx="360.8" cy="542" r="1.6" fill="#0d1a16"/>
<circle cx="356.5" cy="549.5" r="1.6" fill="#0d1a16"/>
<circle cx="365" cy="549.5" r="1.6" fill="#0d1a16"/>
<circle cx="360.8" cy="558" r="1.6" fill="#0d1a16"/>
<path d="M310.1,552.6 V516.8 H361.5 V519.7" stroke="#222" stroke-width="1" fill="none"/>
<path d="M339.5,524 H361.1 V526" stroke="#222" stroke-width="1" fill="none"/>
<path d="M310.1,541.7 H343.5 V544.4" stroke="#222" stroke-width="1" fill="none"/>
<circle cx="334" cy="513.3" r="1" fill="#222"/>
<circle cx="337.4" cy="513.3" r="1" fill="#222"/>
<circle cx="349.9" cy="521.4" r="1" fill="#222"/>
<circle cx="323.4" cy="538.2" r="1" fill="#222"/>
<text x="275.3" y="603.8" font-size="9.4" transform="rotate(-90 275.3 603.8)" textLength="91.1" lengthAdjust="spacingAndGlyphs">cKit<tspan font-size="5.8" dy="-3">+</tspan><tspan dy="3"> DN1&amp;DN2 cell # in Th</tspan></text>
<line x1="309.5" y1="595.3" x2="309.5" y2="598.1" stroke="#111" stroke-width="1"/>
<text x="312.1" y="607.1" font-size="8" text-anchor="end" transform="rotate(-45 312.1 607.1)" textLength="15.5" lengthAdjust="spacingAndGlyphs" stroke="#231f20" stroke-width="0.12">Con</text>
<line x1="326.5" y1="595.3" x2="326.5" y2="598.1" stroke="#111" stroke-width="1"/>
<text x="329.1" y="607.1" font-size="8" text-anchor="end" transform="rotate(-45 329.1 607.1)" textLength="12.5" lengthAdjust="spacingAndGlyphs" stroke="#231f20" stroke-width="0.12">K-/-</text>
<line x1="343.8" y1="595.3" x2="343.8" y2="598.1" stroke="#111" stroke-width="1"/>
<text x="346.4" y="607.1" font-size="8" text-anchor="end" transform="rotate(-45 346.4 607.1)" textLength="13.5" lengthAdjust="spacingAndGlyphs" stroke="#231f20" stroke-width="0.12">Q/+</text>
<line x1="360.8" y1="595.3" x2="360.8" y2="598.1" stroke="#111" stroke-width="1"/>
<text x="363.4" y="607.1" font-size="8" text-anchor="end" transform="rotate(-45 363.4 607.1)" textLength="31" lengthAdjust="spacingAndGlyphs" stroke="#231f20" stroke-width="0.12">K-/-;Q/+</text>
<rect x="0.5" y="0.5" width="519" height="636" fill="none" stroke="#000" stroke-width="1"/>
</svg>
</body></html>
